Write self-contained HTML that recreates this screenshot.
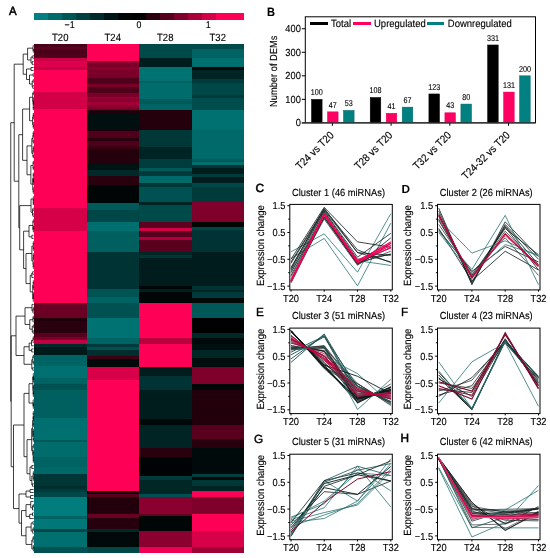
<!DOCTYPE html>
<html><head><meta charset="utf-8"><style>
html,body{margin:0;padding:0;background:#fff;width:550px;height:558px;overflow:hidden}
svg{display:block;will-change:transform}
text{text-rendering:geometricPrecision}
</style></head><body>
<svg width="550" height="558" viewBox="0 0 550 558" shape-rendering="crispEdges">
<rect x="0" y="0" width="550" height="558" fill="#fff"/>
<rect x="34" y="44" width="52.50" height="3.00" fill="#4a0019"/>
<rect x="34" y="47" width="52.50" height="2.00" fill="#5e0020"/>
<rect x="34" y="49" width="52.50" height="4.00" fill="#4a0019"/>
<rect x="34" y="53" width="52.50" height="5.00" fill="#4f001b"/>
<rect x="34" y="58" width="52.50" height="3.00" fill="#cc0046"/>
<rect x="34" y="61" width="52.50" height="6.00" fill="#de004c"/>
<rect x="34" y="67" width="52.50" height="3.00" fill="#c70044"/>
<rect x="34" y="70" width="52.50" height="22.00" fill="#ff0057"/>
<rect x="34" y="92" width="52.50" height="17.00" fill="#d10047"/>
<rect x="34" y="109" width="52.50" height="99.00" fill="#ff0057"/>
<rect x="34" y="208" width="52.50" height="23.00" fill="#d60049"/>
<rect x="34" y="231" width="52.50" height="72.00" fill="#ff0057"/>
<rect x="34" y="303" width="52.50" height="15.00" fill="#6b0025"/>
<rect x="34" y="318" width="52.50" height="3.00" fill="#1f000a"/>
<rect x="34" y="321" width="52.50" height="12.00" fill="#29000e"/>
<rect x="34" y="333" width="52.50" height="4.00" fill="#59001e"/>
<rect x="34" y="337" width="52.50" height="3.00" fill="#7a002a"/>
<rect x="34" y="340" width="52.50" height="4.00" fill="#bf0041"/>
<rect x="34" y="344" width="52.50" height="3.00" fill="#002a2a"/>
<rect x="34" y="347" width="52.50" height="8.00" fill="#001a1a"/>
<rect x="34" y="355" width="52.50" height="11.00" fill="#006464"/>
<rect x="34" y="366" width="52.50" height="12.00" fill="#006f6f"/>
<rect x="34" y="378" width="52.50" height="6.00" fill="#006363"/>
<rect x="34" y="384" width="52.50" height="6.00" fill="#005151"/>
<rect x="34" y="390" width="52.50" height="28.00" fill="#006060"/>
<rect x="34" y="418" width="52.50" height="22.00" fill="#006f6f"/>
<rect x="34" y="440" width="52.50" height="2.00" fill="#005858"/>
<rect x="34" y="442" width="52.50" height="15.00" fill="#006c6c"/>
<rect x="34" y="457" width="52.50" height="10.00" fill="#006363"/>
<rect x="34" y="467" width="52.50" height="7.00" fill="#006868"/>
<rect x="34" y="474" width="52.50" height="12.00" fill="#003636"/>
<rect x="34" y="486" width="52.50" height="3.00" fill="#002e2e"/>
<rect x="34" y="489" width="52.50" height="3.00" fill="#003a3a"/>
<rect x="34" y="492" width="52.50" height="5.00" fill="#004848"/>
<rect x="34" y="497" width="52.50" height="19.00" fill="#007c7c"/>
<rect x="34" y="516" width="52.50" height="3.00" fill="#006363"/>
<rect x="34" y="519" width="52.50" height="10.00" fill="#007878"/>
<rect x="34" y="529" width="52.50" height="3.00" fill="#004848"/>
<rect x="34" y="532" width="52.50" height="15.00" fill="#006f6f"/>
<rect x="34" y="547" width="52.50" height="5.60" fill="#005151"/>
<rect x="86.5" y="44" width="52.50" height="17.00" fill="#ff0057"/>
<rect x="86.5" y="61" width="52.50" height="3.00" fill="#8a002f"/>
<rect x="86.5" y="64" width="52.50" height="3.00" fill="#7a002a"/>
<rect x="86.5" y="67" width="52.50" height="3.00" fill="#8a002f"/>
<rect x="86.5" y="70" width="52.50" height="8.00" fill="#7a002a"/>
<rect x="86.5" y="78" width="52.50" height="6.00" fill="#4f001b"/>
<rect x="86.5" y="84" width="52.50" height="3.00" fill="#7a002a"/>
<rect x="86.5" y="87" width="52.50" height="6.00" fill="#4f001b"/>
<rect x="86.5" y="93" width="52.50" height="4.00" fill="#7a002a"/>
<rect x="86.5" y="97" width="52.50" height="2.00" fill="#990034"/>
<rect x="86.5" y="99" width="52.50" height="3.00" fill="#8a002f"/>
<rect x="86.5" y="102" width="52.50" height="3.00" fill="#a10037"/>
<rect x="86.5" y="105" width="52.50" height="3.00" fill="#8f0031"/>
<rect x="86.5" y="108" width="52.50" height="2.00" fill="#7a002a"/>
<rect x="86.5" y="110" width="52.50" height="3.00" fill="#21000b"/>
<rect x="86.5" y="113" width="52.50" height="16.00" fill="#000f0f"/>
<rect x="86.5" y="129" width="52.50" height="2.00" fill="#21000b"/>
<rect x="86.5" y="131" width="52.50" height="7.00" fill="#4f001b"/>
<rect x="86.5" y="138" width="52.50" height="3.00" fill="#29000e"/>
<rect x="86.5" y="141" width="52.50" height="5.00" fill="#4f001b"/>
<rect x="86.5" y="146" width="52.50" height="3.00" fill="#3b0014"/>
<rect x="86.5" y="149" width="52.50" height="15.00" fill="#24000c"/>
<rect x="86.5" y="164" width="52.50" height="6.00" fill="#001313"/>
<rect x="86.5" y="170" width="52.50" height="6.00" fill="#002a2a"/>
<rect x="86.5" y="176" width="52.50" height="9.00" fill="#29000e"/>
<rect x="86.5" y="185" width="52.50" height="18.00" fill="#000505"/>
<rect x="86.5" y="203" width="52.50" height="7.00" fill="#005a5a"/>
<rect x="86.5" y="210" width="52.50" height="12.00" fill="#004848"/>
<rect x="86.5" y="222" width="52.50" height="9.00" fill="#006f6f"/>
<rect x="86.5" y="231" width="52.50" height="21.00" fill="#006060"/>
<rect x="86.5" y="252" width="52.50" height="37.00" fill="#003434"/>
<rect x="86.5" y="289" width="52.50" height="8.00" fill="#005454"/>
<rect x="86.5" y="297" width="52.50" height="6.00" fill="#006363"/>
<rect x="86.5" y="303" width="52.50" height="15.00" fill="#005151"/>
<rect x="86.5" y="318" width="52.50" height="20.00" fill="#007272"/>
<rect x="86.5" y="338" width="52.50" height="6.00" fill="#006464"/>
<rect x="86.5" y="344" width="52.50" height="3.00" fill="#003a3a"/>
<rect x="86.5" y="347" width="52.50" height="3.00" fill="#005151"/>
<rect x="86.5" y="350" width="52.50" height="6.00" fill="#002e2e"/>
<rect x="86.5" y="356" width="52.50" height="3.00" fill="#3b0014"/>
<rect x="86.5" y="359" width="52.50" height="8.00" fill="#000808"/>
<rect x="86.5" y="367" width="52.50" height="13.00" fill="#d9004a"/>
<rect x="86.5" y="380" width="52.50" height="111.00" fill="#ff0057"/>
<rect x="86.5" y="491" width="52.50" height="3.00" fill="#1a0009"/>
<rect x="86.5" y="494" width="52.50" height="3.00" fill="#59001e"/>
<rect x="86.5" y="497" width="52.50" height="17.00" fill="#21000b"/>
<rect x="86.5" y="514" width="52.50" height="4.00" fill="#6b0025"/>
<rect x="86.5" y="518" width="52.50" height="11.00" fill="#26000d"/>
<rect x="86.5" y="529" width="52.50" height="3.00" fill="#002828"/>
<rect x="86.5" y="532" width="52.50" height="15.00" fill="#000808"/>
<rect x="86.5" y="547" width="52.50" height="5.60" fill="#004848"/>
<rect x="139" y="44" width="52.50" height="14.00" fill="#004a4a"/>
<rect x="139" y="58" width="52.50" height="9.00" fill="#001d1d"/>
<rect x="139" y="67" width="52.50" height="14.00" fill="#007272"/>
<rect x="139" y="81" width="52.50" height="2.00" fill="#006060"/>
<rect x="139" y="83" width="52.50" height="16.00" fill="#006c6c"/>
<rect x="139" y="99" width="52.50" height="5.00" fill="#005a5a"/>
<rect x="139" y="104" width="52.50" height="6.00" fill="#006464"/>
<rect x="139" y="110" width="52.50" height="20.00" fill="#24000c"/>
<rect x="139" y="130" width="52.50" height="17.00" fill="#003838"/>
<rect x="139" y="147" width="52.50" height="12.00" fill="#002424"/>
<rect x="139" y="159" width="52.50" height="9.00" fill="#003c3c"/>
<rect x="139" y="168" width="52.50" height="3.00" fill="#005a5a"/>
<rect x="139" y="171" width="52.50" height="5.00" fill="#003a3a"/>
<rect x="139" y="176" width="52.50" height="7.00" fill="#006a6a"/>
<rect x="139" y="183" width="52.50" height="4.00" fill="#003838"/>
<rect x="139" y="187" width="52.50" height="15.00" fill="#005151"/>
<rect x="139" y="202" width="52.50" height="3.00" fill="#002323"/>
<rect x="139" y="205" width="52.50" height="17.00" fill="#004a4a"/>
<rect x="139" y="222" width="52.50" height="6.00" fill="#5e0020"/>
<rect x="139" y="228" width="52.50" height="3.00" fill="#d10047"/>
<rect x="139" y="231" width="52.50" height="6.00" fill="#59001e"/>
<rect x="139" y="237" width="52.50" height="3.00" fill="#b2003d"/>
<rect x="139" y="240" width="52.50" height="12.00" fill="#59001e"/>
<rect x="139" y="252" width="52.50" height="3.00" fill="#002626"/>
<rect x="139" y="255" width="52.50" height="3.00" fill="#003636"/>
<rect x="139" y="258" width="52.50" height="28.00" fill="#001c1c"/>
<rect x="139" y="286" width="52.50" height="3.00" fill="#000505"/>
<rect x="139" y="289" width="52.50" height="3.00" fill="#002020"/>
<rect x="139" y="292" width="52.50" height="11.00" fill="#000505"/>
<rect x="139" y="303" width="52.50" height="35.00" fill="#ff0057"/>
<rect x="139" y="338" width="52.50" height="6.00" fill="#b8003f"/>
<rect x="139" y="344" width="52.50" height="23.00" fill="#ff0057"/>
<rect x="139" y="367" width="52.50" height="9.00" fill="#001c1c"/>
<rect x="139" y="376" width="52.50" height="14.00" fill="#003434"/>
<rect x="139" y="390" width="52.50" height="29.00" fill="#001d1d"/>
<rect x="139" y="419" width="52.50" height="6.00" fill="#000808"/>
<rect x="139" y="425" width="52.50" height="23.00" fill="#002424"/>
<rect x="139" y="448" width="52.50" height="9.00" fill="#29000e"/>
<rect x="139" y="457" width="52.50" height="19.00" fill="#000303"/>
<rect x="139" y="476" width="52.50" height="4.00" fill="#003a3a"/>
<rect x="139" y="480" width="52.50" height="14.00" fill="#002626"/>
<rect x="139" y="494" width="52.50" height="3.00" fill="#005151"/>
<rect x="139" y="497" width="52.50" height="17.00" fill="#8a002f"/>
<rect x="139" y="514" width="52.50" height="2.00" fill="#610021"/>
<rect x="139" y="516" width="52.50" height="15.00" fill="#000505"/>
<rect x="139" y="531" width="52.50" height="16.00" fill="#8a002f"/>
<rect x="139" y="547" width="52.50" height="5.60" fill="#f00052"/>
<rect x="191.5" y="44" width="52.50" height="5.00" fill="#004a4a"/>
<rect x="191.5" y="49" width="52.50" height="9.00" fill="#006363"/>
<rect x="191.5" y="58" width="52.50" height="9.00" fill="#006f6f"/>
<rect x="191.5" y="67" width="52.50" height="3.00" fill="#000808"/>
<rect x="191.5" y="70" width="52.50" height="9.00" fill="#002323"/>
<rect x="191.5" y="79" width="52.50" height="4.00" fill="#003a3a"/>
<rect x="191.5" y="83" width="52.50" height="12.00" fill="#004848"/>
<rect x="191.5" y="95" width="52.50" height="3.00" fill="#003a3a"/>
<rect x="191.5" y="98" width="52.50" height="12.00" fill="#004d4d"/>
<rect x="191.5" y="110" width="52.50" height="20.00" fill="#007171"/>
<rect x="191.5" y="130" width="52.50" height="29.00" fill="#006969"/>
<rect x="191.5" y="159" width="52.50" height="3.00" fill="#005a5a"/>
<rect x="191.5" y="162" width="52.50" height="3.00" fill="#006f6f"/>
<rect x="191.5" y="165" width="52.50" height="3.00" fill="#003434"/>
<rect x="191.5" y="168" width="52.50" height="6.00" fill="#001d1d"/>
<rect x="191.5" y="174" width="52.50" height="3.00" fill="#003a3a"/>
<rect x="191.5" y="177" width="52.50" height="6.00" fill="#001d1d"/>
<rect x="191.5" y="183" width="52.50" height="4.00" fill="#004848"/>
<rect x="191.5" y="187" width="52.50" height="15.00" fill="#003a3a"/>
<rect x="191.5" y="202" width="52.50" height="20.00" fill="#80002c"/>
<rect x="191.5" y="222" width="52.50" height="5.00" fill="#000505"/>
<rect x="191.5" y="227" width="52.50" height="3.00" fill="#004545"/>
<rect x="191.5" y="230" width="52.50" height="22.00" fill="#003434"/>
<rect x="191.5" y="252" width="52.50" height="34.00" fill="#001c1c"/>
<rect x="191.5" y="286" width="52.50" height="4.00" fill="#003434"/>
<rect x="191.5" y="290" width="52.50" height="2.00" fill="#002323"/>
<rect x="191.5" y="292" width="52.50" height="6.00" fill="#003a3a"/>
<rect x="191.5" y="298" width="52.50" height="5.00" fill="#000808"/>
<rect x="191.5" y="303" width="52.50" height="15.00" fill="#005858"/>
<rect x="191.5" y="318" width="52.50" height="15.00" fill="#000000"/>
<rect x="191.5" y="333" width="52.50" height="5.00" fill="#002828"/>
<rect x="191.5" y="338" width="52.50" height="6.00" fill="#000a0a"/>
<rect x="191.5" y="344" width="52.50" height="6.00" fill="#000f0f"/>
<rect x="191.5" y="350" width="52.50" height="8.00" fill="#002626"/>
<rect x="191.5" y="358" width="52.50" height="9.00" fill="#000e0e"/>
<rect x="191.5" y="367" width="52.50" height="17.00" fill="#80002c"/>
<rect x="191.5" y="384" width="52.50" height="6.00" fill="#000505"/>
<rect x="191.5" y="390" width="52.50" height="35.00" fill="#21000b"/>
<rect x="191.5" y="425" width="52.50" height="14.00" fill="#59001e"/>
<rect x="191.5" y="439" width="52.50" height="9.00" fill="#29000e"/>
<rect x="191.5" y="448" width="52.50" height="26.00" fill="#000a0a"/>
<rect x="191.5" y="474" width="52.50" height="3.00" fill="#004040"/>
<rect x="191.5" y="477" width="52.50" height="3.00" fill="#000808"/>
<rect x="191.5" y="480" width="52.50" height="6.00" fill="#003838"/>
<rect x="191.5" y="486" width="52.50" height="5.00" fill="#002424"/>
<rect x="191.5" y="491" width="52.50" height="6.00" fill="#ff0057"/>
<rect x="191.5" y="497" width="52.50" height="17.00" fill="#80002c"/>
<rect x="191.5" y="514" width="52.50" height="17.00" fill="#ff0057"/>
<rect x="191.5" y="531" width="52.50" height="16.00" fill="#d9004a"/>
<rect x="191.5" y="547" width="52.50" height="5.60" fill="#a10037"/>
<rect x="34" y="13" width="14" height="7" fill="#008080"/>
<rect x="48" y="13" width="14" height="7" fill="#006b6b"/>
<rect x="62" y="13" width="14" height="7" fill="#005555"/>
<rect x="76" y="13" width="14" height="7" fill="#004040"/>
<rect x="90" y="13" width="14" height="7" fill="#002b2b"/>
<rect x="104" y="13" width="14" height="7" fill="#001515"/>
<rect x="118" y="13" width="14" height="7" fill="#000505"/>
<rect x="132" y="13" width="14" height="7" fill="#000000"/>
<rect x="146" y="13" width="14" height="7" fill="#2a000e"/>
<rect x="160" y="13" width="14" height="7" fill="#55001d"/>
<rect x="174" y="13" width="14" height="7" fill="#80002c"/>
<rect x="188" y="13" width="14" height="7" fill="#aa003a"/>
<rect x="202" y="13" width="14" height="7" fill="#d40048"/>
<rect x="216" y="13" width="14" height="7" fill="#ff0057"/>
<rect x="230" y="13" width="14" height="7" fill="#ff0057"/>
<text transform="translate(9.0 15) scale(1 1.03)" font-family="Liberation Sans, sans-serif" font-size="11.5" text-anchor="start" fill="#000" stroke="#000" stroke-width="0.5">A</text>
<text transform="translate(69.6 27.8) scale(1 1.1)" font-family="Liberation Sans, sans-serif" font-size="8.8" text-anchor="middle" fill="#000" stroke="#000" stroke-width="0.12">−1</text>
<text transform="translate(139 27.8) scale(1 1.1)" font-family="Liberation Sans, sans-serif" font-size="8.8" text-anchor="middle" fill="#000" stroke="#000" stroke-width="0.12">0</text>
<text transform="translate(208.2 27.8) scale(1 1.1)" font-family="Liberation Sans, sans-serif" font-size="8.8" text-anchor="middle" fill="#000" stroke="#000" stroke-width="0.12">1</text>
<text transform="translate(60.25 41) scale(1 1.1)" font-family="Liberation Sans, sans-serif" font-size="9.5" text-anchor="middle" fill="#000" stroke="#000" stroke-width="0.12">T20</text>
<text transform="translate(112.75 41) scale(1 1.1)" font-family="Liberation Sans, sans-serif" font-size="9.5" text-anchor="middle" fill="#000" stroke="#000" stroke-width="0.12">T24</text>
<text transform="translate(165.25 41) scale(1 1.1)" font-family="Liberation Sans, sans-serif" font-size="9.5" text-anchor="middle" fill="#000" stroke="#000" stroke-width="0.12">T28</text>
<text transform="translate(217.75 41) scale(1 1.1)" font-family="Liberation Sans, sans-serif" font-size="9.5" text-anchor="middle" fill="#000" stroke="#000" stroke-width="0.12">T32</text>
<path d="M33.30 49.00L33.30 52.33M33.30 49.00L33.60 49.00M33.30 52.33L33.60 52.33M33.00 45.67L33.00 50.67M33.00 45.67L33.60 45.67M33.00 50.67L33.30 50.67M32.90 55.50L32.90 58.50M32.90 55.50L33.60 55.50M32.90 58.50L33.60 58.50M32.25 61.50L32.25 64.50M32.25 61.50L33.60 61.50M32.25 64.50L33.60 64.50M31.00 57.00L31.00 63.00M31.00 57.00L32.90 57.00M31.00 63.00L32.25 63.00M27.60 48.17L27.60 60.00M27.60 48.17L33.00 48.17M27.60 60.00L31.00 60.00M31.00 67.50L31.00 70.50M31.00 67.50L33.60 67.50M31.00 70.50L33.60 70.50M33.18 73.50L33.18 76.50M33.18 73.50L33.60 73.50M33.18 76.50L33.60 76.50M33.24 79.50L33.24 82.50M33.24 79.50L33.60 79.50M33.24 82.50L33.60 82.50M32.93 85.50L32.93 88.50M32.93 85.50L33.60 85.50M32.93 88.50L33.60 88.50M32.21 81.00L32.21 87.00M32.21 81.00L33.24 81.00M32.21 87.00L32.93 87.00M29.50 75.00L29.50 84.00M29.50 75.00L33.18 75.00M29.50 84.00L32.21 84.00M26.50 69.00L26.50 79.50M26.50 69.00L31.00 69.00M26.50 79.50L29.50 79.50M23.20 54.08L23.20 74.25M23.20 54.08L27.60 54.08M23.20 74.25L26.50 74.25M33.30 91.54L33.30 94.62M33.30 91.54L33.60 91.54M33.30 94.62L33.60 94.62M33.30 100.77L33.30 103.85M33.30 100.77L33.60 100.77M33.30 103.85L33.60 103.85M33.30 106.92L33.30 110.00M33.30 106.92L33.60 106.92M33.30 110.00L33.60 110.00M33.30 102.31L33.30 108.46M33.30 102.31L33.30 102.31M33.30 108.46L33.30 108.46M33.30 97.69L33.30 105.38M33.30 97.69L33.60 97.69M33.30 105.38L33.30 105.38M32.73 93.08L32.73 101.54M32.73 93.08L33.30 93.08M32.73 101.54L33.30 101.54M33.30 113.08L33.30 116.15M33.30 113.08L33.60 113.08M33.30 116.15L33.60 116.15M33.30 114.62L33.30 119.23M33.30 114.62L33.30 114.62M33.30 119.23L33.60 119.23M33.30 125.38L33.30 128.46M33.30 125.38L33.60 125.38M33.30 128.46L33.60 128.46M33.25 122.31L33.25 126.92M33.25 122.31L33.60 122.31M33.25 126.92L33.30 126.92M32.61 116.92L32.61 124.62M32.61 116.92L33.30 116.92M32.61 124.62L33.25 124.62M29.60 97.31L29.60 120.77M29.60 97.31L32.73 97.31M29.60 120.77L32.61 120.77M33.30 131.48L33.30 134.43M33.30 131.48L33.60 131.48M33.30 134.43L33.60 134.43M33.30 132.95L33.30 137.39M33.30 132.95L33.30 132.95M33.30 137.39L33.60 137.39M33.30 140.34L33.30 143.30M33.30 140.34L33.60 140.34M33.30 143.30L33.60 143.30M32.93 135.17L32.93 141.82M32.93 135.17L33.30 135.17M32.93 141.82L33.30 141.82M33.30 146.25L33.30 149.20M33.30 146.25L33.60 146.25M33.30 149.20L33.60 149.20M33.27 147.73L33.27 152.16M33.27 147.73L33.30 147.73M33.27 152.16L33.60 152.16M33.30 155.11L33.30 158.07M33.30 155.11L33.60 155.11M33.30 158.07L33.60 158.07M32.91 149.94L32.91 156.59M32.91 149.94L33.27 149.94M32.91 156.59L33.30 156.59M31.83 138.49L31.83 153.27M31.83 138.49L32.93 138.49M31.83 153.27L32.91 153.27M33.30 161.02L33.30 163.98M33.30 161.02L33.60 161.02M33.30 163.98L33.60 163.98M33.30 166.93L33.30 169.89M33.30 166.93L33.60 166.93M33.30 169.89L33.60 169.89M33.12 162.50L33.12 168.41M33.12 162.50L33.30 162.50M33.12 168.41L33.30 168.41M33.30 172.84L33.30 175.80M33.30 172.84L33.60 172.84M33.30 175.80L33.60 175.80M33.30 178.75L33.30 181.70M33.30 178.75L33.60 178.75M33.30 181.70L33.60 181.70M33.30 180.23L33.30 184.66M33.30 180.23L33.30 180.23M33.30 184.66L33.60 184.66M33.30 174.32L33.30 182.44M33.30 174.32L33.30 174.32M33.30 182.44L33.30 182.44M33.30 190.57L33.30 193.52M33.30 190.57L33.60 190.57M33.30 193.52L33.60 193.52M33.21 187.61L33.21 192.05M33.21 187.61L33.60 187.61M33.21 192.05L33.30 192.05M32.80 178.38L32.80 189.83M32.80 178.38L33.30 178.38M32.80 189.83L33.21 189.83M30.86 165.45L30.86 184.11M30.86 165.45L33.12 165.45M30.86 184.11L32.80 184.11M27.00 145.88L27.00 174.78M27.00 145.88L31.83 145.88M27.00 174.78L30.86 174.78M22.60 109.04L22.60 160.33M22.60 109.04L29.60 109.04M22.60 160.33L27.00 160.33M33.30 202.19L33.30 205.06M33.30 202.19L33.60 202.19M33.30 205.06L33.60 205.06M33.30 199.31L33.30 203.62M33.30 199.31L33.60 199.31M33.30 203.62L33.30 203.62M33.30 196.44L33.30 201.47M33.30 196.44L33.60 196.44M33.30 201.47L33.30 201.47M33.09 207.94L33.09 210.81M33.09 207.94L33.60 207.94M33.09 210.81L33.60 210.81M33.03 213.69L33.03 216.56M33.03 213.69L33.60 213.69M33.03 216.56L33.60 216.56M32.53 209.38L32.53 215.12M32.53 209.38L33.09 209.38M32.53 215.12L33.03 215.12M31.00 198.95L31.00 212.25M31.00 198.95L33.30 198.95M31.00 212.25L32.53 212.25M33.30 219.57L33.30 222.71M33.30 219.57L33.60 219.57M33.30 222.71L33.60 222.71M33.30 225.86L33.30 229.00M33.30 225.86L33.60 225.86M33.30 229.00L33.60 229.00M33.30 227.43L33.30 232.14M33.30 227.43L33.30 227.43M33.30 232.14L33.60 232.14M32.93 221.14L32.93 229.79M32.93 221.14L33.30 221.14M32.93 229.79L33.30 229.79M31.85 235.29L31.85 238.43M31.85 235.29L33.60 235.29M31.85 238.43L33.60 238.43M29.00 225.46L29.00 236.86M29.00 225.46L32.93 225.46M29.00 236.86L31.85 236.86M33.30 241.50L33.30 244.50M33.30 241.50L33.60 241.50M33.30 244.50L33.60 244.50M33.30 247.50L33.30 250.50M33.30 247.50L33.60 247.50M33.30 250.50L33.60 250.50M33.30 243.00L33.30 249.00M33.30 243.00L33.30 243.00M33.30 249.00L33.30 249.00M33.30 253.50L33.30 256.50M33.30 253.50L33.60 253.50M33.30 256.50L33.60 256.50M33.30 255.00L33.30 259.50M33.30 255.00L33.30 255.00M33.30 259.50L33.60 259.50M33.30 265.50L33.30 268.50M33.30 265.50L33.60 265.50M33.30 268.50L33.60 268.50M33.30 262.50L33.30 267.00M33.30 262.50L33.60 262.50M33.30 267.00L33.30 267.00M33.06 257.25L33.06 264.75M33.06 257.25L33.30 257.25M33.06 264.75L33.30 264.75M31.88 246.00L31.88 261.00M31.88 246.00L33.30 246.00M31.88 261.00L33.06 261.00M32.83 271.50L32.83 274.50M32.83 271.50L33.60 271.50M32.83 274.50L33.60 274.50M31.84 273.00L31.84 277.50M31.84 273.00L32.83 273.00M31.84 277.50L33.60 277.50M33.30 280.50L33.30 283.50M33.30 280.50L33.60 280.50M33.30 283.50L33.60 283.50M33.30 286.50L33.30 289.50M33.30 286.50L33.60 286.50M33.30 289.50L33.60 289.50M33.26 282.00L33.26 288.00M33.26 282.00L33.30 282.00M33.26 288.00L33.30 288.00M33.30 292.50L33.30 295.50M33.30 292.50L33.60 292.50M33.30 295.50L33.60 295.50M33.30 294.00L33.30 298.50M33.30 294.00L33.30 294.00M33.30 298.50L33.60 298.50M33.28 296.25L33.28 301.50M33.28 296.25L33.30 296.25M33.28 301.50L33.60 301.50M32.77 285.00L32.77 298.88M32.77 285.00L33.26 285.00M32.77 298.88L33.28 298.88M30.23 275.25L30.23 291.94M30.23 275.25L31.84 275.25M30.23 291.94L32.77 291.94M26.00 253.50L26.00 283.59M26.00 253.50L31.88 253.50M26.00 283.59L30.23 283.59M23.60 231.16L23.60 268.55M23.60 231.16L29.00 231.16M23.60 268.55L26.00 268.55M19.70 205.60L19.70 249.85M19.70 205.60L31.00 205.60M19.70 249.85L23.60 249.85M18.80 134.68L18.80 227.73M18.80 134.68L22.60 134.68M18.80 227.73L19.70 227.73M14.20 64.17L14.20 181.21M14.20 64.17L23.20 64.17M14.20 181.21L18.80 181.21M33.30 307.36L33.30 310.27M33.30 307.36L33.60 307.36M33.30 310.27L33.60 310.27M33.03 308.82L33.03 313.18M33.03 308.82L33.30 308.82M33.03 313.18L33.60 313.18M31.98 304.45L31.98 311.00M31.98 304.45L33.60 304.45M31.98 311.00L33.03 311.00M33.28 316.09L33.28 319.00M33.28 316.09L33.60 316.09M33.28 319.00L33.60 319.00M32.93 317.55L32.93 321.91M32.93 317.55L33.28 317.55M32.93 321.91L33.60 321.91M33.30 324.82L33.30 327.73M33.30 324.82L33.60 324.82M33.30 327.73L33.60 327.73M33.13 330.64L33.13 333.55M33.13 330.64L33.60 330.64M33.13 333.55L33.60 333.55M32.26 326.27L32.26 332.09M32.26 326.27L33.30 326.27M32.26 332.09L33.13 332.09M29.79 319.73L29.79 329.18M29.79 319.73L32.93 319.73M29.79 329.18L32.26 329.18M25.00 307.73L25.00 324.45M25.00 307.73L31.98 307.73M25.00 324.45L29.79 324.45M33.30 336.54L33.30 339.62M33.30 336.54L33.60 336.54M33.30 339.62L33.60 339.62M33.06 338.08L33.06 342.71M33.06 338.08L33.30 338.08M33.06 342.71L33.60 342.71M31.52 340.40L31.52 345.79M31.52 340.40L33.06 340.40M31.52 345.79L33.60 345.79M31.71 348.88L31.71 351.96M31.71 348.88L33.60 348.88M31.71 351.96L33.60 351.96M29.14 343.09L29.14 350.42M29.14 343.09L31.52 343.09M29.14 350.42L31.71 350.42M33.30 355.04L33.30 358.12M33.30 355.04L33.60 355.04M33.30 358.12L33.60 358.12M33.30 361.21L33.30 364.29M33.30 361.21L33.60 361.21M33.30 364.29L33.60 364.29M32.83 356.58L32.83 362.75M32.83 356.58L33.30 356.58M32.83 362.75L33.30 362.75M32.89 367.38L32.89 370.46M32.89 367.38L33.60 367.38M32.89 370.46L33.60 370.46M31.81 359.67L31.81 368.92M31.81 359.67L32.83 359.67M31.81 368.92L32.89 368.92M24.00 346.76L24.00 364.29M24.00 346.76L29.14 346.76M24.00 364.29L31.81 364.29M16.00 316.09L16.00 355.52M16.00 316.09L25.00 316.09M16.00 355.52L24.00 355.52M33.30 376.38L33.30 379.31M33.30 376.38L33.60 376.38M33.30 379.31L33.60 379.31M33.30 377.85L33.30 382.23M33.30 377.85L33.30 377.85M33.30 382.23L33.60 382.23M33.30 373.46L33.30 380.04M33.30 373.46L33.60 373.46M33.30 380.04L33.30 380.04M33.30 385.15L33.30 388.08M33.30 385.15L33.60 385.15M33.30 388.08L33.60 388.08M33.30 391.00L33.30 393.92M33.30 391.00L33.60 391.00M33.30 393.92L33.60 393.92M33.30 392.46L33.30 396.85M33.30 392.46L33.30 392.46M33.30 396.85L33.60 396.85M33.30 386.62L33.30 394.65M33.30 386.62L33.30 386.62M33.30 394.65L33.30 394.65M32.89 376.75L32.89 390.63M32.89 376.75L33.30 376.75M32.89 390.63L33.30 390.63M33.30 402.69L33.30 405.62M33.30 402.69L33.60 402.69M33.30 405.62L33.60 405.62M33.30 404.15L33.30 408.54M33.30 404.15L33.30 404.15M33.30 408.54L33.60 408.54M33.11 399.77L33.11 406.35M33.11 399.77L33.60 399.77M33.11 406.35L33.30 406.35M29.00 383.69L29.00 403.06M29.00 383.69L32.89 383.69M29.00 403.06L33.11 403.06M33.30 411.50L33.30 414.50M33.30 411.50L33.60 411.50M33.30 414.50L33.60 414.50M33.30 417.50L33.30 420.50M33.30 417.50L33.60 417.50M33.30 420.50L33.60 420.50M33.30 413.00L33.30 419.00M33.30 413.00L33.30 413.00M33.30 419.00L33.30 419.00M33.30 423.50L33.30 426.50M33.30 423.50L33.60 423.50M33.30 426.50L33.60 426.50M33.30 416.00L33.30 425.00M33.30 416.00L33.30 416.00M33.30 425.00L33.30 425.00M33.30 429.50L33.30 432.50M33.30 429.50L33.60 429.50M33.30 432.50L33.60 432.50M33.30 431.00L33.30 435.50M33.30 431.00L33.30 431.00M33.30 435.50L33.60 435.50M33.30 438.50L33.30 441.50M33.30 438.50L33.60 438.50M33.30 441.50L33.60 441.50M33.27 433.25L33.27 440.00M33.27 433.25L33.30 433.25M33.27 440.00L33.30 440.00M32.69 420.50L32.69 436.62M32.69 420.50L33.30 420.50M32.69 436.62L33.27 436.62M33.30 444.50L33.30 447.50M33.30 444.50L33.60 444.50M33.30 447.50L33.60 447.50M33.30 450.50L33.30 453.50M33.30 450.50L33.60 450.50M33.30 453.50L33.60 453.50M33.30 459.50L33.30 462.50M33.30 459.50L33.60 459.50M33.30 462.50L33.60 462.50M33.30 456.50L33.30 461.00M33.30 456.50L33.60 456.50M33.30 461.00L33.30 461.00M33.30 452.00L33.30 458.75M33.30 452.00L33.30 452.00M33.30 458.75L33.30 458.75M32.80 446.00L32.80 455.38M32.80 446.00L33.30 446.00M32.80 455.38L33.30 455.38M31.68 428.56L31.68 450.69M31.68 428.56L32.69 428.56M31.68 450.69L32.80 450.69M31.83 465.50L31.83 468.50M31.83 465.50L33.60 465.50M31.83 468.50L33.60 468.50M33.30 471.50L33.30 474.50M33.30 471.50L33.60 471.50M33.30 474.50L33.60 474.50M33.30 477.50L33.30 480.50M33.30 477.50L33.60 477.50M33.30 480.50L33.60 480.50M33.30 473.00L33.30 479.00M33.30 473.00L33.30 473.00M33.30 479.00L33.30 479.00M32.69 483.50L32.69 486.50M32.69 483.50L33.60 483.50M32.69 486.50L33.60 486.50M31.83 476.00L31.83 485.00M31.83 476.00L33.30 476.00M31.83 485.00L32.69 485.00M30.01 467.00L30.01 480.50M30.01 467.00L31.83 467.00M30.01 480.50L31.83 480.50M27.00 439.62L27.00 473.75M27.00 439.62L31.68 439.62M27.00 473.75L30.01 473.75M24.00 393.38L24.00 456.69M24.00 393.38L29.00 393.38M24.00 456.69L27.00 456.69M30.07 489.50L30.07 492.50M30.07 489.50L33.60 489.50M30.07 492.50L33.60 492.50M30.54 495.50L30.54 498.50M30.54 495.50L33.60 495.50M30.54 498.50L33.60 498.50M26.00 491.00L26.00 497.00M26.00 491.00L30.07 491.00M26.00 497.00L30.54 497.00M33.30 504.29L33.30 507.14M33.30 504.29L33.60 504.29M33.30 507.14L33.60 507.14M32.50 505.71L32.50 510.00M32.50 505.71L33.30 505.71M32.50 510.00L33.60 510.00M30.72 501.43L30.72 507.86M30.72 501.43L33.60 501.43M30.72 507.86L32.50 507.86M32.55 512.86L32.55 515.71M32.55 512.86L33.60 512.86M32.55 515.71L33.60 515.71M29.69 514.29L29.69 518.57M29.69 514.29L32.55 514.29M29.69 518.57L33.60 518.57M26.00 504.64L26.00 516.43M26.00 504.64L30.72 504.64M26.00 516.43L29.69 516.43M33.01 521.48L33.01 524.45M33.01 521.48L33.60 521.48M33.01 524.45L33.60 524.45M33.30 527.41L33.30 530.37M33.30 527.41L33.60 527.41M33.30 530.37L33.60 530.37M32.75 528.89L32.75 533.34M32.75 528.89L33.30 528.89M32.75 533.34L33.60 533.34M31.12 522.96L31.12 531.11M31.12 522.96L33.01 522.96M31.12 531.11L32.75 531.11M33.30 536.30L33.30 539.26M33.30 536.30L33.60 536.30M33.30 539.26L33.60 539.26M32.96 537.78L32.96 542.23M32.96 537.78L33.30 537.78M32.96 542.23L33.60 542.23M33.30 545.19L33.30 548.15M33.30 545.19L33.60 545.19M33.30 548.15L33.60 548.15M33.30 546.67L33.30 551.12M33.30 546.67L33.30 546.67M33.30 551.12L33.60 551.12M31.82 540.00L31.82 548.90M31.82 540.00L32.96 540.00M31.82 548.90L33.30 548.90M26.00 527.04L26.00 544.45M26.00 527.04L31.12 527.04M26.00 544.45L31.82 544.45M21.50 510.54L21.50 535.74M21.50 510.54L26.00 510.54M21.50 535.74L26.00 535.74M19.00 494.00L19.00 523.14M19.00 494.00L26.00 494.00M19.00 523.14L21.50 523.14M13.50 425.03L13.50 508.57M13.50 425.03L24.00 425.03M13.50 508.57L19.00 508.57M11.20 335.81L11.20 466.80M11.20 335.81L16.00 335.81M11.20 466.80L13.50 466.80M10.75 122.69L10.75 401.30M10.75 122.69L14.20 122.69M10.75 401.30L11.20 401.30" stroke="#000" stroke-width="0.75" fill="none" shape-rendering="geometricPrecision"/>
<text transform="translate(267 16.3) scale(1 1.1)" font-family="Liberation Sans, sans-serif" font-size="11" text-anchor="start" font-weight="bold" fill="#000" stroke="#000" stroke-width="0.12">B</text>
<rect x="305.3" y="16.8" width="230.2" height="106.0" fill="none" stroke="#000" stroke-width="1" shape-rendering="geometricPrecision"/>
<line x1="301.8" y1="122.90" x2="305.3" y2="122.90" stroke="#000" stroke-width="1" shape-rendering="geometricPrecision"/>
<text transform="translate(300.8 126.4) scale(1 1.1)" font-family="Liberation Sans, sans-serif" font-size="9.3" text-anchor="end" fill="#000" stroke="#000" stroke-width="0.12">0</text>
<line x1="301.8" y1="99.36" x2="305.3" y2="99.36" stroke="#000" stroke-width="1" shape-rendering="geometricPrecision"/>
<text transform="translate(300.8 102.86000000000001) scale(1 1.1)" font-family="Liberation Sans, sans-serif" font-size="9.3" text-anchor="end" fill="#000" stroke="#000" stroke-width="0.12">100</text>
<line x1="301.8" y1="75.82" x2="305.3" y2="75.82" stroke="#000" stroke-width="1" shape-rendering="geometricPrecision"/>
<text transform="translate(300.8 79.32000000000001) scale(1 1.1)" font-family="Liberation Sans, sans-serif" font-size="9.3" text-anchor="end" fill="#000" stroke="#000" stroke-width="0.12">200</text>
<line x1="301.8" y1="52.28" x2="305.3" y2="52.28" stroke="#000" stroke-width="1" shape-rendering="geometricPrecision"/>
<text transform="translate(300.8 55.78) scale(1 1.1)" font-family="Liberation Sans, sans-serif" font-size="9.3" text-anchor="end" fill="#000" stroke="#000" stroke-width="0.12">300</text>
<line x1="301.8" y1="28.74" x2="305.3" y2="28.74" stroke="#000" stroke-width="1" shape-rendering="geometricPrecision"/>
<text transform="translate(300.8 32.24000000000001) scale(1 1.1)" font-family="Liberation Sans, sans-serif" font-size="9.3" text-anchor="end" fill="#000" stroke="#000" stroke-width="0.12">400</text>
<text transform="translate(276.7 71.3) rotate(-90) scale(1 1.1)" font-family="Liberation Sans, sans-serif" font-size="9.3" text-anchor="middle" fill="#000" stroke="#000" stroke-width="0.12">Number of DEMs</text>
<rect x="311.50" y="99.36" width="10.6" height="23.54" fill="#000" stroke="#000" stroke-width="0.5" shape-rendering="geometricPrecision"/>
<text transform="translate(316.79999999999995 95.06000000000002) scale(1 1.17)" font-family="Liberation Sans, sans-serif" font-size="7.2" text-anchor="middle" fill="#000" stroke="#000" stroke-width="0.1">100</text>
<rect x="327.50" y="111.84" width="10.6" height="11.06" fill="#ff0062" stroke="#e8005a" stroke-width="0.5" shape-rendering="geometricPrecision"/>
<text transform="translate(332.79999999999995 107.53620000000001) scale(1 1.17)" font-family="Liberation Sans, sans-serif" font-size="7.2" text-anchor="middle" fill="#000" stroke="#000" stroke-width="0.1">47</text>
<rect x="343.50" y="110.42" width="10.6" height="12.48" fill="#008080" stroke="#006666" stroke-width="0.5" shape-rendering="geometricPrecision"/>
<text transform="translate(348.79999999999995 106.1238) scale(1 1.17)" font-family="Liberation Sans, sans-serif" font-size="7.2" text-anchor="middle" fill="#000" stroke="#000" stroke-width="0.1">53</text>
<line x1="332.4" y1="122.8" x2="332.4" y2="125.8" stroke="#000" stroke-width="1" shape-rendering="geometricPrecision"/>
<text transform="translate(334.5 135.8) rotate(-45) scale(1 1.1)" font-family="Liberation Sans, sans-serif" font-size="9.8" text-anchor="end" fill="#000" stroke="#000" stroke-width="0.12">T24 vs T20</text>
<rect x="370.20" y="97.48" width="10.6" height="25.42" fill="#000" stroke="#000" stroke-width="0.5" shape-rendering="geometricPrecision"/>
<text transform="translate(375.49999999999994 93.1768) scale(1 1.17)" font-family="Liberation Sans, sans-serif" font-size="7.2" text-anchor="middle" fill="#000" stroke="#000" stroke-width="0.1">108</text>
<rect x="386.20" y="113.25" width="10.6" height="9.65" fill="#ff0062" stroke="#e8005a" stroke-width="0.5" shape-rendering="geometricPrecision"/>
<text transform="translate(391.49999999999994 108.94860000000001) scale(1 1.17)" font-family="Liberation Sans, sans-serif" font-size="7.2" text-anchor="middle" fill="#000" stroke="#000" stroke-width="0.1">41</text>
<rect x="402.20" y="107.13" width="10.6" height="15.77" fill="#008080" stroke="#006666" stroke-width="0.5" shape-rendering="geometricPrecision"/>
<text transform="translate(407.49999999999994 102.82820000000001) scale(1 1.17)" font-family="Liberation Sans, sans-serif" font-size="7.2" text-anchor="middle" fill="#000" stroke="#000" stroke-width="0.1">67</text>
<line x1="391.09999999999997" y1="122.8" x2="391.09999999999997" y2="125.8" stroke="#000" stroke-width="1" shape-rendering="geometricPrecision"/>
<text transform="translate(393.2 135.8) rotate(-45) scale(1 1.1)" font-family="Liberation Sans, sans-serif" font-size="9.8" text-anchor="end" fill="#000" stroke="#000" stroke-width="0.12">T28 vs T20</text>
<rect x="428.90" y="93.95" width="10.6" height="28.95" fill="#000" stroke="#000" stroke-width="0.5" shape-rendering="geometricPrecision"/>
<text transform="translate(434.19999999999993 89.64580000000001) scale(1 1.17)" font-family="Liberation Sans, sans-serif" font-size="7.2" text-anchor="middle" fill="#000" stroke="#000" stroke-width="0.1">123</text>
<rect x="444.90" y="112.78" width="10.6" height="10.12" fill="#ff0062" stroke="#e8005a" stroke-width="0.5" shape-rendering="geometricPrecision"/>
<text transform="translate(450.19999999999993 108.47780000000002) scale(1 1.17)" font-family="Liberation Sans, sans-serif" font-size="7.2" text-anchor="middle" fill="#000" stroke="#000" stroke-width="0.1">43</text>
<rect x="460.90" y="104.07" width="10.6" height="18.83" fill="#008080" stroke="#006666" stroke-width="0.5" shape-rendering="geometricPrecision"/>
<text transform="translate(466.19999999999993 99.76800000000001) scale(1 1.17)" font-family="Liberation Sans, sans-serif" font-size="7.2" text-anchor="middle" fill="#000" stroke="#000" stroke-width="0.1">80</text>
<line x1="449.79999999999995" y1="122.8" x2="449.79999999999995" y2="125.8" stroke="#000" stroke-width="1" shape-rendering="geometricPrecision"/>
<text transform="translate(451.9 135.8) rotate(-45) scale(1 1.1)" font-family="Liberation Sans, sans-serif" font-size="9.8" text-anchor="end" fill="#000" stroke="#000" stroke-width="0.12">T32 vs T20</text>
<rect x="487.60" y="44.98" width="10.6" height="77.92" fill="#000" stroke="#000" stroke-width="0.5" shape-rendering="geometricPrecision"/>
<text transform="translate(492.9 40.68260000000001) scale(1 1.17)" font-family="Liberation Sans, sans-serif" font-size="7.2" text-anchor="middle" fill="#000" stroke="#000" stroke-width="0.1">331</text>
<rect x="503.60" y="92.06" width="10.6" height="30.84" fill="#ff0062" stroke="#e8005a" stroke-width="0.5" shape-rendering="geometricPrecision"/>
<text transform="translate(508.9 87.7626) scale(1 1.17)" font-family="Liberation Sans, sans-serif" font-size="7.2" text-anchor="middle" fill="#000" stroke="#000" stroke-width="0.1">131</text>
<rect x="519.60" y="75.82" width="10.6" height="47.08" fill="#008080" stroke="#006666" stroke-width="0.5" shape-rendering="geometricPrecision"/>
<text transform="translate(524.9 71.52000000000001) scale(1 1.17)" font-family="Liberation Sans, sans-serif" font-size="7.2" text-anchor="middle" fill="#000" stroke="#000" stroke-width="0.1">200</text>
<line x1="508.5" y1="122.8" x2="508.5" y2="125.8" stroke="#000" stroke-width="1" shape-rendering="geometricPrecision"/>
<text transform="translate(510.6 135.8) rotate(-45) scale(1 1.1)" font-family="Liberation Sans, sans-serif" font-size="9.8" text-anchor="end" fill="#000" stroke="#000" stroke-width="0.12">T24-32 vs T20</text>
<line x1="301.8" y1="122.9" x2="535.5" y2="122.9" stroke="#333" stroke-width="1.4" shape-rendering="geometricPrecision"/>
<rect x="310.2" y="21.8" width="17.80000000000001" height="3.2" fill="#000"/>
<rect x="353" y="21.8" width="17.5" height="3.2" fill="#ff0062"/>
<rect x="426.5" y="21.8" width="17.5" height="3.2" fill="#008080"/>
<text transform="translate(331 26.8) scale(1 1.1)" font-family="Liberation Sans, sans-serif" font-size="9.5" text-anchor="start" fill="#000" stroke="#000" stroke-width="0.12">Total</text>
<text transform="translate(374 26.8) scale(1 1.1)" font-family="Liberation Sans, sans-serif" font-size="9.5" text-anchor="start" fill="#000" stroke="#000" stroke-width="0.12">Upregulated</text>
<text transform="translate(447.8 26.8) scale(1 1.1)" font-family="Liberation Sans, sans-serif" font-size="9.5" text-anchor="start" fill="#000" stroke="#000" stroke-width="0.12">Downregulated</text>
<polyline points="291.00,251.80 324.20,233.84 357.50,272.16 390.80,213.74" fill="none" stroke="#297474" stroke-width="0.8" stroke-linejoin="miter" shape-rendering="geometricPrecision"/>
<polyline points="291.00,258.50 324.20,238.40 357.50,285.83 390.80,223.12" fill="none" stroke="#297474" stroke-width="0.8" stroke-linejoin="miter" shape-rendering="geometricPrecision"/>
<polyline points="291.00,271.36 324.20,217.76 357.50,260.64 390.80,265.46" fill="none" stroke="#297474" stroke-width="0.8" stroke-linejoin="miter" shape-rendering="geometricPrecision"/>
<polyline points="291.00,259.30 324.20,207.31 357.50,241.88 390.80,247.24" fill="none" stroke="#0d1a1a" stroke-width="0.8" stroke-linejoin="miter" shape-rendering="geometricPrecision"/>
<polyline points="291.00,261.98 324.20,208.92 357.50,249.92 390.80,262.52" fill="none" stroke="#0d1a1a" stroke-width="0.8" stroke-linejoin="miter" shape-rendering="geometricPrecision"/>
<polyline points="291.00,263.32 324.20,209.99 357.50,252.60 390.80,261.98" fill="none" stroke="#0d1a1a" stroke-width="0.8" stroke-linejoin="miter" shape-rendering="geometricPrecision"/>
<polyline points="291.00,267.34 324.20,211.06 357.50,257.16 390.80,233.30" fill="none" stroke="#0d1a1a" stroke-width="0.8" stroke-linejoin="miter" shape-rendering="geometricPrecision"/>
<polyline points="291.00,270.02 324.20,211.86 357.50,259.30 390.80,254.48" fill="none" stroke="#0d1a1a" stroke-width="0.8" stroke-linejoin="miter" shape-rendering="geometricPrecision"/>
<polyline points="291.00,272.70 324.20,213.74 357.50,262.52 390.80,253.94" fill="none" stroke="#0d1a1a" stroke-width="0.8" stroke-linejoin="miter" shape-rendering="geometricPrecision"/>
<polyline points="291.00,275.38 324.20,215.08 357.50,264.66 390.80,237.86" fill="none" stroke="#0d1a1a" stroke-width="0.8" stroke-linejoin="miter" shape-rendering="geometricPrecision"/>
<polyline points="291.00,276.72 324.20,217.76 357.50,264.12 390.80,251.26" fill="none" stroke="#3a3a3a" stroke-width="0.8" stroke-linejoin="miter" shape-rendering="geometricPrecision"/>
<polyline points="291.00,279.40 324.20,219.10 357.50,265.20 390.80,243.22" fill="none" stroke="#3a3a3a" stroke-width="0.8" stroke-linejoin="miter" shape-rendering="geometricPrecision"/>
<polyline points="291.00,282.88 324.20,216.96 357.50,263.59 390.80,247.24" fill="none" stroke="#0d1a1a" stroke-width="0.8" stroke-linejoin="miter" shape-rendering="geometricPrecision"/>
<polyline points="291.00,268.68 324.20,208.38 357.50,252.60 390.80,255.28" fill="none" stroke="#0d1a1a" stroke-width="0.8" stroke-linejoin="miter" shape-rendering="geometricPrecision"/>
<polyline points="291.00,281.01 324.20,214.27 357.50,260.08 390.80,243.59" fill="none" stroke="#f2005a" stroke-width="0.8" stroke-linejoin="miter" shape-rendering="geometricPrecision"/>
<polyline points="291.00,280.85 324.20,214.20 357.50,262.46 390.80,243.09" fill="none" stroke="#f2005a" stroke-width="0.8" stroke-linejoin="miter" shape-rendering="geometricPrecision"/>
<polyline points="291.00,280.49 324.20,213.70 357.50,262.75 390.80,245.33" fill="none" stroke="#f2005a" stroke-width="0.8" stroke-linejoin="miter" shape-rendering="geometricPrecision"/>
<polyline points="291.00,282.08 324.20,213.66 357.50,260.82 390.80,248.13" fill="none" stroke="#f2005a" stroke-width="0.8" stroke-linejoin="miter" shape-rendering="geometricPrecision"/>
<polyline points="291.00,279.45 324.20,213.29 357.50,260.95 390.80,241.98" fill="none" stroke="#f2005a" stroke-width="0.8" stroke-linejoin="miter" shape-rendering="geometricPrecision"/>
<polyline points="291.00,281.88 324.20,215.58 357.50,261.35 390.80,247.94" fill="none" stroke="#f2005a" stroke-width="0.8" stroke-linejoin="miter" shape-rendering="geometricPrecision"/>
<polyline points="291.00,281.79 324.20,215.03 357.50,262.96 390.80,243.61" fill="none" stroke="#f2005a" stroke-width="0.8" stroke-linejoin="miter" shape-rendering="geometricPrecision"/>
<polyline points="291.00,281.05 324.20,213.58 357.50,261.38 390.80,241.72" fill="none" stroke="#f2005a" stroke-width="0.8" stroke-linejoin="miter" shape-rendering="geometricPrecision"/>
<polyline points="291.00,280.87 324.20,214.02 357.50,261.58 390.80,245.60" fill="none" stroke="#f2005a" stroke-width="0.8" stroke-linejoin="miter" shape-rendering="geometricPrecision"/>
<rect x="289.8" y="204.4" width="102.5" height="85.49999999999997" fill="none" stroke="#000" stroke-width="1" shape-rendering="geometricPrecision"/>
<line x1="287.40000000000003" y1="205.70" x2="289.8" y2="205.70" stroke="#000" stroke-width="1" shape-rendering="geometricPrecision"/>
<text transform="translate(285.40000000000003 209.30000000000004) scale(1 1.1)" font-family="Liberation Sans, sans-serif" font-size="9.3" text-anchor="end" fill="#000" stroke="#000" stroke-width="0.12">1.5</text>
<line x1="288.2" y1="219.10" x2="289.8" y2="219.10" stroke="#000" stroke-width="1" shape-rendering="geometricPrecision"/>
<line x1="287.40000000000003" y1="232.50" x2="289.8" y2="232.50" stroke="#000" stroke-width="1" shape-rendering="geometricPrecision"/>
<text transform="translate(285.40000000000003 236.10000000000002) scale(1 1.1)" font-family="Liberation Sans, sans-serif" font-size="9.3" text-anchor="end" fill="#000" stroke="#000" stroke-width="0.12">0.5</text>
<line x1="288.2" y1="245.90" x2="289.8" y2="245.90" stroke="#000" stroke-width="1" shape-rendering="geometricPrecision"/>
<line x1="287.40000000000003" y1="259.30" x2="289.8" y2="259.30" stroke="#000" stroke-width="1" shape-rendering="geometricPrecision"/>
<text transform="translate(285.40000000000003 262.90000000000003) scale(1 1.1)" font-family="Liberation Sans, sans-serif" font-size="9.3" text-anchor="end" fill="#000" stroke="#000" stroke-width="0.12">−0.5</text>
<line x1="288.2" y1="272.70" x2="289.8" y2="272.70" stroke="#000" stroke-width="1" shape-rendering="geometricPrecision"/>
<line x1="287.40000000000003" y1="286.10" x2="289.8" y2="286.10" stroke="#000" stroke-width="1" shape-rendering="geometricPrecision"/>
<text transform="translate(285.40000000000003 289.70000000000005) scale(1 1.1)" font-family="Liberation Sans, sans-serif" font-size="9.3" text-anchor="end" fill="#000" stroke="#000" stroke-width="0.12">−1.5</text>
<line x1="291.00" y1="289.9" x2="291.00" y2="291.7" stroke="#000" stroke-width="1" shape-rendering="geometricPrecision"/>
<text transform="translate(291.0 301.5) scale(1 1.1)" font-family="Liberation Sans, sans-serif" font-size="9.3" text-anchor="middle" fill="#000" stroke="#000" stroke-width="0.12">T20</text>
<line x1="324.20" y1="289.9" x2="324.20" y2="291.7" stroke="#000" stroke-width="1" shape-rendering="geometricPrecision"/>
<text transform="translate(324.2 301.5) scale(1 1.1)" font-family="Liberation Sans, sans-serif" font-size="9.3" text-anchor="middle" fill="#000" stroke="#000" stroke-width="0.12">T24</text>
<line x1="357.50" y1="289.9" x2="357.50" y2="291.7" stroke="#000" stroke-width="1" shape-rendering="geometricPrecision"/>
<text transform="translate(357.5 301.5) scale(1 1.1)" font-family="Liberation Sans, sans-serif" font-size="9.3" text-anchor="middle" fill="#000" stroke="#000" stroke-width="0.12">T28</text>
<line x1="390.80" y1="289.9" x2="390.80" y2="291.7" stroke="#000" stroke-width="1" shape-rendering="geometricPrecision"/>
<text transform="translate(390.8 301.5) scale(1 1.1)" font-family="Liberation Sans, sans-serif" font-size="9.3" text-anchor="middle" fill="#000" stroke="#000" stroke-width="0.12">T32</text>
<text transform="translate(263.5 245.50000000000003) rotate(-90) scale(1 1.1)" font-family="Liberation Sans, sans-serif" font-size="9.5" text-anchor="middle" fill="#000" stroke="#000" stroke-width="0.12">Expression change</text>
<text transform="translate(338.5 195.6) scale(1 1.1)" font-family="Liberation Sans, sans-serif" font-size="9.3" text-anchor="middle" fill="#000" stroke="#000" stroke-width="0.12">Cluster 1 (46 miRNAs)</text>
<text transform="translate(255.5 192.3) scale(1 1.0)" font-family="Liberation Sans, sans-serif" font-size="11.8" text-anchor="start" fill="#000" stroke="#000" stroke-width="0.55">C</text>
<polyline points="438.70,208.11 471.90,284.76 505.20,221.78 538.50,256.62" fill="none" stroke="#0d1a1a" stroke-width="0.8" stroke-linejoin="miter" shape-rendering="geometricPrecision"/>
<polyline points="438.70,211.06 471.90,282.08 505.20,224.46 538.50,259.30" fill="none" stroke="#0d1a1a" stroke-width="0.8" stroke-linejoin="miter" shape-rendering="geometricPrecision"/>
<polyline points="438.70,216.42 471.90,278.06 505.20,227.14 538.50,270.02" fill="none" stroke="#0d1a1a" stroke-width="0.8" stroke-linejoin="miter" shape-rendering="geometricPrecision"/>
<polyline points="438.70,220.44 471.90,275.38 505.20,228.48 538.50,254.74" fill="none" stroke="#0d1a1a" stroke-width="0.8" stroke-linejoin="miter" shape-rendering="geometricPrecision"/>
<polyline points="438.70,224.46 471.90,272.70 505.20,237.86 538.50,275.38" fill="none" stroke="#3a3a3a" stroke-width="0.8" stroke-linejoin="miter" shape-rendering="geometricPrecision"/>
<polyline points="438.70,229.82 471.90,271.36 505.20,246.44 538.50,261.98" fill="none" stroke="#0d1a1a" stroke-width="0.8" stroke-linejoin="miter" shape-rendering="geometricPrecision"/>
<polyline points="438.70,228.48 471.90,280.74 505.20,251.26 538.50,270.02" fill="none" stroke="#0d1a1a" stroke-width="0.8" stroke-linejoin="miter" shape-rendering="geometricPrecision"/>
<polyline points="438.70,213.74 471.90,283.42 505.20,225.80 538.50,264.66" fill="none" stroke="#0d1a1a" stroke-width="0.8" stroke-linejoin="miter" shape-rendering="geometricPrecision"/>
<polyline points="438.70,219.10 471.90,276.72 505.20,231.16 538.50,266.00" fill="none" stroke="#3a3a3a" stroke-width="0.8" stroke-linejoin="miter" shape-rendering="geometricPrecision"/>
<polyline points="438.70,219.10 471.90,253.14 505.20,240.81 538.50,256.08" fill="none" stroke="#297474" stroke-width="0.8" stroke-linejoin="miter" shape-rendering="geometricPrecision"/>
<polyline points="438.70,231.16 471.90,269.48 505.20,215.35 538.50,284.76" fill="none" stroke="#297474" stroke-width="0.8" stroke-linejoin="miter" shape-rendering="geometricPrecision"/>
<polyline points="438.70,232.50 471.90,274.04 505.20,244.56 538.50,255.28" fill="none" stroke="#297474" stroke-width="0.8" stroke-linejoin="miter" shape-rendering="geometricPrecision"/>
<polyline points="438.70,214.81 471.90,278.06 505.20,233.84 538.50,266.54" fill="none" stroke="#c4003c" stroke-width="1.3" stroke-linejoin="miter" shape-rendering="geometricPrecision"/>
<polyline points="438.70,215.88 471.90,276.72 505.20,235.72 538.50,264.66" fill="none" stroke="#c4003c" stroke-width="0.7" stroke-linejoin="miter" shape-rendering="geometricPrecision"/>
<rect x="437.5" y="204.4" width="102.5" height="85.49999999999997" fill="none" stroke="#000" stroke-width="1" shape-rendering="geometricPrecision"/>
<line x1="435.1" y1="205.70" x2="437.5" y2="205.70" stroke="#000" stroke-width="1" shape-rendering="geometricPrecision"/>
<text transform="translate(433.1 209.30000000000004) scale(1 1.1)" font-family="Liberation Sans, sans-serif" font-size="9.3" text-anchor="end" fill="#000" stroke="#000" stroke-width="0.12">1.5</text>
<line x1="435.9" y1="219.10" x2="437.5" y2="219.10" stroke="#000" stroke-width="1" shape-rendering="geometricPrecision"/>
<line x1="435.1" y1="232.50" x2="437.5" y2="232.50" stroke="#000" stroke-width="1" shape-rendering="geometricPrecision"/>
<text transform="translate(433.1 236.10000000000002) scale(1 1.1)" font-family="Liberation Sans, sans-serif" font-size="9.3" text-anchor="end" fill="#000" stroke="#000" stroke-width="0.12">0.5</text>
<line x1="435.9" y1="245.90" x2="437.5" y2="245.90" stroke="#000" stroke-width="1" shape-rendering="geometricPrecision"/>
<line x1="435.1" y1="259.30" x2="437.5" y2="259.30" stroke="#000" stroke-width="1" shape-rendering="geometricPrecision"/>
<text transform="translate(433.1 262.90000000000003) scale(1 1.1)" font-family="Liberation Sans, sans-serif" font-size="9.3" text-anchor="end" fill="#000" stroke="#000" stroke-width="0.12">−0.5</text>
<line x1="435.9" y1="272.70" x2="437.5" y2="272.70" stroke="#000" stroke-width="1" shape-rendering="geometricPrecision"/>
<line x1="435.1" y1="286.10" x2="437.5" y2="286.10" stroke="#000" stroke-width="1" shape-rendering="geometricPrecision"/>
<text transform="translate(433.1 289.70000000000005) scale(1 1.1)" font-family="Liberation Sans, sans-serif" font-size="9.3" text-anchor="end" fill="#000" stroke="#000" stroke-width="0.12">−1.5</text>
<line x1="438.70" y1="289.9" x2="438.70" y2="291.7" stroke="#000" stroke-width="1" shape-rendering="geometricPrecision"/>
<text transform="translate(438.7 301.5) scale(1 1.1)" font-family="Liberation Sans, sans-serif" font-size="9.3" text-anchor="middle" fill="#000" stroke="#000" stroke-width="0.12">T20</text>
<line x1="471.90" y1="289.9" x2="471.90" y2="291.7" stroke="#000" stroke-width="1" shape-rendering="geometricPrecision"/>
<text transform="translate(471.9 301.5) scale(1 1.1)" font-family="Liberation Sans, sans-serif" font-size="9.3" text-anchor="middle" fill="#000" stroke="#000" stroke-width="0.12">T24</text>
<line x1="505.20" y1="289.9" x2="505.20" y2="291.7" stroke="#000" stroke-width="1" shape-rendering="geometricPrecision"/>
<text transform="translate(505.2 301.5) scale(1 1.1)" font-family="Liberation Sans, sans-serif" font-size="9.3" text-anchor="middle" fill="#000" stroke="#000" stroke-width="0.12">T28</text>
<line x1="538.50" y1="289.9" x2="538.50" y2="291.7" stroke="#000" stroke-width="1" shape-rendering="geometricPrecision"/>
<text transform="translate(538.5 301.5) scale(1 1.1)" font-family="Liberation Sans, sans-serif" font-size="9.3" text-anchor="middle" fill="#000" stroke="#000" stroke-width="0.12">T32</text>
<text transform="translate(411.2 245.50000000000003) rotate(-90) scale(1 1.1)" font-family="Liberation Sans, sans-serif" font-size="9.5" text-anchor="middle" fill="#000" stroke="#000" stroke-width="0.12">Expression change</text>
<text transform="translate(486.2 195.6) scale(1 1.1)" font-family="Liberation Sans, sans-serif" font-size="9.3" text-anchor="middle" fill="#000" stroke="#000" stroke-width="0.12">Cluster 2 (26 miRNAs)</text>
<text transform="translate(401.4 192.5) scale(1 1.0)" font-family="Liberation Sans, sans-serif" font-size="11.8" text-anchor="start" font-weight="bold" fill="#000">D</text>
<polyline points="291.00,349.19 324.20,345.54 357.50,386.21 390.80,401.41" fill="none" stroke="#3a3a3a" stroke-width="0.7" stroke-linejoin="miter" shape-rendering="geometricPrecision"/>
<polyline points="291.00,335.19 324.20,362.00 357.50,397.29 390.80,393.06" fill="none" stroke="#0d1a1a" stroke-width="0.7" stroke-linejoin="miter" shape-rendering="geometricPrecision"/>
<polyline points="291.00,345.52 324.20,351.12 357.50,386.08 390.80,402.91" fill="none" stroke="#0d1a1a" stroke-width="0.7" stroke-linejoin="miter" shape-rendering="geometricPrecision"/>
<polyline points="291.00,348.71 324.20,346.49 357.50,403.09 390.80,386.67" fill="none" stroke="#0d1a1a" stroke-width="0.7" stroke-linejoin="miter" shape-rendering="geometricPrecision"/>
<polyline points="291.00,348.77 324.20,347.64 357.50,383.39 390.80,405.56" fill="none" stroke="#3a3a3a" stroke-width="0.7" stroke-linejoin="miter" shape-rendering="geometricPrecision"/>
<polyline points="291.00,330.74 324.20,367.84 357.50,387.45 390.80,402.05" fill="none" stroke="#0d1a1a" stroke-width="0.7" stroke-linejoin="miter" shape-rendering="geometricPrecision"/>
<polyline points="291.00,330.74 324.20,367.50 357.50,383.72 390.80,403.68" fill="none" stroke="#0d1a1a" stroke-width="0.7" stroke-linejoin="miter" shape-rendering="geometricPrecision"/>
<polyline points="291.00,330.74 324.20,366.75 357.50,401.07 390.80,389.33" fill="none" stroke="#0d1a1a" stroke-width="0.7" stroke-linejoin="miter" shape-rendering="geometricPrecision"/>
<polyline points="291.00,346.98 324.20,350.38 357.50,391.86 390.80,396.88" fill="none" stroke="#3a3a3a" stroke-width="0.7" stroke-linejoin="miter" shape-rendering="geometricPrecision"/>
<polyline points="291.00,330.74 324.20,365.00 357.50,400.47 390.80,387.43" fill="none" stroke="#0d1a1a" stroke-width="0.7" stroke-linejoin="miter" shape-rendering="geometricPrecision"/>
<polyline points="291.00,330.74 324.20,366.79 357.50,398.82 390.80,390.68" fill="none" stroke="#0d1a1a" stroke-width="0.7" stroke-linejoin="miter" shape-rendering="geometricPrecision"/>
<polyline points="291.00,349.16 324.20,346.18 357.50,396.99 390.80,389.88" fill="none" stroke="#0d1a1a" stroke-width="0.7" stroke-linejoin="miter" shape-rendering="geometricPrecision"/>
<polyline points="291.00,332.14 324.20,364.52 357.50,385.93 390.80,401.98" fill="none" stroke="#3a3a3a" stroke-width="0.7" stroke-linejoin="miter" shape-rendering="geometricPrecision"/>
<polyline points="291.00,330.74 324.20,367.18 357.50,398.81 390.80,390.73" fill="none" stroke="#0d1a1a" stroke-width="0.7" stroke-linejoin="miter" shape-rendering="geometricPrecision"/>
<polyline points="291.00,345.91 324.20,350.96 357.50,397.14 390.80,393.20" fill="none" stroke="#0d1a1a" stroke-width="0.7" stroke-linejoin="miter" shape-rendering="geometricPrecision"/>
<polyline points="291.00,330.74 324.20,367.43 357.50,398.22 390.80,389.86" fill="none" stroke="#0d1a1a" stroke-width="0.7" stroke-linejoin="miter" shape-rendering="geometricPrecision"/>
<polyline points="291.00,335.84 324.20,360.63 357.50,383.82 390.80,404.76" fill="none" stroke="#3a3a3a" stroke-width="0.7" stroke-linejoin="miter" shape-rendering="geometricPrecision"/>
<polyline points="291.00,339.40 324.20,355.74 357.50,399.43 390.80,390.57" fill="none" stroke="#0d1a1a" stroke-width="0.7" stroke-linejoin="miter" shape-rendering="geometricPrecision"/>
<polyline points="291.00,347.61 324.20,347.69 357.50,398.09 390.80,391.76" fill="none" stroke="#0d1a1a" stroke-width="0.7" stroke-linejoin="miter" shape-rendering="geometricPrecision"/>
<polyline points="291.00,343.14 324.20,351.77 357.50,399.15 390.80,387.43" fill="none" stroke="#0d1a1a" stroke-width="0.7" stroke-linejoin="miter" shape-rendering="geometricPrecision"/>
<polyline points="291.00,347.67 324.20,348.32 357.50,394.63 390.80,395.58" fill="none" stroke="#3a3a3a" stroke-width="0.7" stroke-linejoin="miter" shape-rendering="geometricPrecision"/>
<polyline points="291.00,330.74 324.20,368.67 357.50,398.31 390.80,389.33" fill="none" stroke="#0d1a1a" stroke-width="0.7" stroke-linejoin="miter" shape-rendering="geometricPrecision"/>
<polyline points="291.00,331.88 324.20,363.40 357.50,391.11 390.80,398.29" fill="none" stroke="#0d1a1a" stroke-width="0.7" stroke-linejoin="miter" shape-rendering="geometricPrecision"/>
<polyline points="291.00,330.74 324.20,365.37 357.50,401.72 390.80,387.96" fill="none" stroke="#0d1a1a" stroke-width="0.7" stroke-linejoin="miter" shape-rendering="geometricPrecision"/>
<polyline points="291.00,339.08 324.20,356.11 357.50,390.75 390.80,398.70" fill="none" stroke="#3a3a3a" stroke-width="0.7" stroke-linejoin="miter" shape-rendering="geometricPrecision"/>
<polyline points="291.00,349.80 324.20,347.47 357.50,402.77 390.80,386.73" fill="none" stroke="#0d1a1a" stroke-width="0.7" stroke-linejoin="miter" shape-rendering="geometricPrecision"/>
<polyline points="291.00,338.88 324.20,358.85 357.50,399.56 390.80,389.52" fill="none" stroke="#0d1a1a" stroke-width="0.7" stroke-linejoin="miter" shape-rendering="geometricPrecision"/>
<polyline points="291.00,341.71 324.20,355.80 357.50,395.82 390.80,391.01" fill="none" stroke="#0d1a1a" stroke-width="0.7" stroke-linejoin="miter" shape-rendering="geometricPrecision"/>
<polyline points="291.00,349.86 324.20,345.95 357.50,389.21 390.80,398.94" fill="none" stroke="#3a3a3a" stroke-width="0.7" stroke-linejoin="miter" shape-rendering="geometricPrecision"/>
<polyline points="291.00,331.60 324.20,366.21 357.50,402.74 390.80,384.01" fill="none" stroke="#0d1a1a" stroke-width="0.7" stroke-linejoin="miter" shape-rendering="geometricPrecision"/>
<polyline points="291.00,362.36 324.20,333.96 357.50,389.70 390.80,399.08" fill="none" stroke="#1a4f4f" stroke-width="0.9" stroke-linejoin="miter" shape-rendering="geometricPrecision"/>
<polyline points="291.00,358.88 324.20,335.30 357.50,393.72 390.80,395.06" fill="none" stroke="#1a4f4f" stroke-width="0.9" stroke-linejoin="miter" shape-rendering="geometricPrecision"/>
<polyline points="291.00,354.86 324.20,336.90 357.50,386.22 390.80,401.76" fill="none" stroke="#1a4f4f" stroke-width="0.9" stroke-linejoin="miter" shape-rendering="geometricPrecision"/>
<polyline points="291.00,352.18 324.20,336.10 357.50,396.40 390.80,392.38" fill="none" stroke="#1a4f4f" stroke-width="0.9" stroke-linejoin="miter" shape-rendering="geometricPrecision"/>
<polyline points="291.00,349.50 324.20,346.82 357.50,409.53 390.80,379.25" fill="none" stroke="#297474" stroke-width="0.8" stroke-linejoin="miter" shape-rendering="geometricPrecision"/>
<polyline points="291.00,340.12 324.20,356.20 357.50,373.62 390.80,403.90" fill="none" stroke="#297474" stroke-width="0.8" stroke-linejoin="miter" shape-rendering="geometricPrecision"/>
<polyline points="291.00,331.28 324.20,365.04 357.50,376.30 390.80,393.72" fill="none" stroke="#0d1a1a" stroke-width="0.9" stroke-linejoin="miter" shape-rendering="geometricPrecision"/>
<polyline points="291.00,338.24 324.20,358.08 357.50,393.18 390.80,395.06" fill="none" stroke="#c4003c" stroke-width="0.9" stroke-linejoin="miter" shape-rendering="geometricPrecision"/>
<polyline points="291.00,340.66 324.20,355.66 357.50,391.04 390.80,396.40" fill="none" stroke="#c4003c" stroke-width="0.8" stroke-linejoin="miter" shape-rendering="geometricPrecision"/>
<polyline points="291.00,336.10 324.20,360.22 357.50,395.06 390.80,393.72" fill="none" stroke="#c4003c" stroke-width="0.8" stroke-linejoin="miter" shape-rendering="geometricPrecision"/>
<polyline points="291.00,342.80 324.20,353.52 357.50,389.70 390.80,397.74" fill="none" stroke="#c4003c" stroke-width="0.8" stroke-linejoin="miter" shape-rendering="geometricPrecision"/>
<polyline points="291.00,339.58 324.20,356.74 357.50,396.40 390.80,392.38" fill="none" stroke="#c4003c" stroke-width="0.8" stroke-linejoin="miter" shape-rendering="geometricPrecision"/>
<polyline points="291.00,337.44 324.20,358.88 357.50,388.36 390.80,399.08" fill="none" stroke="#c4003c" stroke-width="0.8" stroke-linejoin="miter" shape-rendering="geometricPrecision"/>
<rect x="289.8" y="328.1" width="102.5" height="85.5" fill="none" stroke="#000" stroke-width="1" shape-rendering="geometricPrecision"/>
<line x1="287.40000000000003" y1="329.40" x2="289.8" y2="329.40" stroke="#000" stroke-width="1" shape-rendering="geometricPrecision"/>
<text transform="translate(285.40000000000003 333.00000000000006) scale(1 1.1)" font-family="Liberation Sans, sans-serif" font-size="9.3" text-anchor="end" fill="#000" stroke="#000" stroke-width="0.12">1.5</text>
<line x1="288.2" y1="342.80" x2="289.8" y2="342.80" stroke="#000" stroke-width="1" shape-rendering="geometricPrecision"/>
<line x1="287.40000000000003" y1="356.20" x2="289.8" y2="356.20" stroke="#000" stroke-width="1" shape-rendering="geometricPrecision"/>
<text transform="translate(285.40000000000003 359.80000000000007) scale(1 1.1)" font-family="Liberation Sans, sans-serif" font-size="9.3" text-anchor="end" fill="#000" stroke="#000" stroke-width="0.12">0.5</text>
<line x1="288.2" y1="369.60" x2="289.8" y2="369.60" stroke="#000" stroke-width="1" shape-rendering="geometricPrecision"/>
<line x1="287.40000000000003" y1="383.00" x2="289.8" y2="383.00" stroke="#000" stroke-width="1" shape-rendering="geometricPrecision"/>
<text transform="translate(285.40000000000003 386.6) scale(1 1.1)" font-family="Liberation Sans, sans-serif" font-size="9.3" text-anchor="end" fill="#000" stroke="#000" stroke-width="0.12">−0.5</text>
<line x1="288.2" y1="396.40" x2="289.8" y2="396.40" stroke="#000" stroke-width="1" shape-rendering="geometricPrecision"/>
<line x1="287.40000000000003" y1="409.80" x2="289.8" y2="409.80" stroke="#000" stroke-width="1" shape-rendering="geometricPrecision"/>
<text transform="translate(285.40000000000003 413.40000000000003) scale(1 1.1)" font-family="Liberation Sans, sans-serif" font-size="9.3" text-anchor="end" fill="#000" stroke="#000" stroke-width="0.12">−1.5</text>
<line x1="291.00" y1="413.6" x2="291.00" y2="415.40000000000003" stroke="#000" stroke-width="1" shape-rendering="geometricPrecision"/>
<text transform="translate(291.0 425.20000000000005) scale(1 1.1)" font-family="Liberation Sans, sans-serif" font-size="9.3" text-anchor="middle" fill="#000" stroke="#000" stroke-width="0.12">T20</text>
<line x1="324.20" y1="413.6" x2="324.20" y2="415.40000000000003" stroke="#000" stroke-width="1" shape-rendering="geometricPrecision"/>
<text transform="translate(324.2 425.20000000000005) scale(1 1.1)" font-family="Liberation Sans, sans-serif" font-size="9.3" text-anchor="middle" fill="#000" stroke="#000" stroke-width="0.12">T24</text>
<line x1="357.50" y1="413.6" x2="357.50" y2="415.40000000000003" stroke="#000" stroke-width="1" shape-rendering="geometricPrecision"/>
<text transform="translate(357.5 425.20000000000005) scale(1 1.1)" font-family="Liberation Sans, sans-serif" font-size="9.3" text-anchor="middle" fill="#000" stroke="#000" stroke-width="0.12">T28</text>
<line x1="390.80" y1="413.6" x2="390.80" y2="415.40000000000003" stroke="#000" stroke-width="1" shape-rendering="geometricPrecision"/>
<text transform="translate(390.8 425.20000000000005) scale(1 1.1)" font-family="Liberation Sans, sans-serif" font-size="9.3" text-anchor="middle" fill="#000" stroke="#000" stroke-width="0.12">T32</text>
<text transform="translate(263.5 369.20000000000005) rotate(-90) scale(1 1.1)" font-family="Liberation Sans, sans-serif" font-size="9.5" text-anchor="middle" fill="#000" stroke="#000" stroke-width="0.12">Expression change</text>
<text transform="translate(338.5 319.3) scale(1 1.1)" font-family="Liberation Sans, sans-serif" font-size="9.3" text-anchor="middle" fill="#000" stroke="#000" stroke-width="0.12">Cluster 3 (51 miRNAs)</text>
<text transform="translate(255.9 315.8) scale(1 1.0)" font-family="Liberation Sans, sans-serif" font-size="11.8" text-anchor="start" fill="#000" stroke="#000" stroke-width="0.35">E</text>
<polyline points="438.70,374.96 471.90,409.53 505.20,340.12 538.50,377.64" fill="none" stroke="#0d1a1a" stroke-width="1.0" stroke-linejoin="miter" shape-rendering="geometricPrecision"/>
<polyline points="438.70,372.28 471.90,408.46 505.20,341.46 538.50,380.32" fill="none" stroke="#0d1a1a" stroke-width="0.9" stroke-linejoin="miter" shape-rendering="geometricPrecision"/>
<polyline points="438.70,391.04 471.90,380.32 505.20,340.66 538.50,376.30" fill="none" stroke="#3a3a3a" stroke-width="0.8" stroke-linejoin="miter" shape-rendering="geometricPrecision"/>
<polyline points="438.70,395.06 471.90,385.68 505.20,339.58 538.50,383.00" fill="none" stroke="#0d1a1a" stroke-width="0.8" stroke-linejoin="miter" shape-rendering="geometricPrecision"/>
<polyline points="438.70,383.00 471.90,388.36 505.20,342.80 538.50,381.66" fill="none" stroke="#3a3a3a" stroke-width="0.8" stroke-linejoin="miter" shape-rendering="geometricPrecision"/>
<polyline points="438.70,396.40 471.90,377.64 505.20,342.80 538.50,378.98" fill="none" stroke="#0d1a1a" stroke-width="0.8" stroke-linejoin="miter" shape-rendering="geometricPrecision"/>
<polyline points="438.70,378.98 471.90,396.40 505.20,340.12 538.50,384.34" fill="none" stroke="#0d1a1a" stroke-width="0.8" stroke-linejoin="miter" shape-rendering="geometricPrecision"/>
<polyline points="438.70,389.70 471.90,392.38 505.20,338.78 538.50,385.68" fill="none" stroke="#0d1a1a" stroke-width="0.8" stroke-linejoin="miter" shape-rendering="geometricPrecision"/>
<polyline points="438.70,377.64 471.90,409.53 505.20,340.66 538.50,377.10" fill="none" stroke="#0d1a1a" stroke-width="1.0" stroke-linejoin="miter" shape-rendering="geometricPrecision"/>
<polyline points="438.70,361.83 471.90,408.46 505.20,340.12 538.50,377.64" fill="none" stroke="#297474" stroke-width="0.8" stroke-linejoin="miter" shape-rendering="geometricPrecision"/>
<polyline points="438.70,403.10 471.90,361.83 505.20,342.80 538.50,406.32" fill="none" stroke="#297474" stroke-width="0.8" stroke-linejoin="miter" shape-rendering="geometricPrecision"/>
<polyline points="438.70,370.94 471.90,409.53 505.20,341.46 538.50,383.00" fill="none" stroke="#297474" stroke-width="0.8" stroke-linejoin="miter" shape-rendering="geometricPrecision"/>
<polyline points="438.70,381.66 471.90,391.04 505.20,334.76 538.50,385.68" fill="none" stroke="#7a0a2c" stroke-width="1.1" stroke-linejoin="miter" shape-rendering="geometricPrecision"/>
<polyline points="438.70,385.68 471.90,399.08 505.20,332.62 538.50,388.90" fill="none" stroke="#7a0a2c" stroke-width="1.1" stroke-linejoin="miter" shape-rendering="geometricPrecision"/>
<polyline points="438.70,388.36 471.90,395.06 505.20,333.96 538.50,387.82" fill="none" stroke="#7a0a2c" stroke-width="0.9" stroke-linejoin="miter" shape-rendering="geometricPrecision"/>
<rect x="437.5" y="328.1" width="102.5" height="85.5" fill="none" stroke="#000" stroke-width="1" shape-rendering="geometricPrecision"/>
<line x1="435.1" y1="329.40" x2="437.5" y2="329.40" stroke="#000" stroke-width="1" shape-rendering="geometricPrecision"/>
<text transform="translate(433.1 333.00000000000006) scale(1 1.1)" font-family="Liberation Sans, sans-serif" font-size="9.3" text-anchor="end" fill="#000" stroke="#000" stroke-width="0.12">1.5</text>
<line x1="435.9" y1="342.80" x2="437.5" y2="342.80" stroke="#000" stroke-width="1" shape-rendering="geometricPrecision"/>
<line x1="435.1" y1="356.20" x2="437.5" y2="356.20" stroke="#000" stroke-width="1" shape-rendering="geometricPrecision"/>
<text transform="translate(433.1 359.80000000000007) scale(1 1.1)" font-family="Liberation Sans, sans-serif" font-size="9.3" text-anchor="end" fill="#000" stroke="#000" stroke-width="0.12">0.5</text>
<line x1="435.9" y1="369.60" x2="437.5" y2="369.60" stroke="#000" stroke-width="1" shape-rendering="geometricPrecision"/>
<line x1="435.1" y1="383.00" x2="437.5" y2="383.00" stroke="#000" stroke-width="1" shape-rendering="geometricPrecision"/>
<text transform="translate(433.1 386.6) scale(1 1.1)" font-family="Liberation Sans, sans-serif" font-size="9.3" text-anchor="end" fill="#000" stroke="#000" stroke-width="0.12">−0.5</text>
<line x1="435.9" y1="396.40" x2="437.5" y2="396.40" stroke="#000" stroke-width="1" shape-rendering="geometricPrecision"/>
<line x1="435.1" y1="409.80" x2="437.5" y2="409.80" stroke="#000" stroke-width="1" shape-rendering="geometricPrecision"/>
<text transform="translate(433.1 413.40000000000003) scale(1 1.1)" font-family="Liberation Sans, sans-serif" font-size="9.3" text-anchor="end" fill="#000" stroke="#000" stroke-width="0.12">−1.5</text>
<line x1="438.70" y1="413.6" x2="438.70" y2="415.40000000000003" stroke="#000" stroke-width="1" shape-rendering="geometricPrecision"/>
<text transform="translate(438.7 425.20000000000005) scale(1 1.1)" font-family="Liberation Sans, sans-serif" font-size="9.3" text-anchor="middle" fill="#000" stroke="#000" stroke-width="0.12">T20</text>
<line x1="471.90" y1="413.6" x2="471.90" y2="415.40000000000003" stroke="#000" stroke-width="1" shape-rendering="geometricPrecision"/>
<text transform="translate(471.9 425.20000000000005) scale(1 1.1)" font-family="Liberation Sans, sans-serif" font-size="9.3" text-anchor="middle" fill="#000" stroke="#000" stroke-width="0.12">T24</text>
<line x1="505.20" y1="413.6" x2="505.20" y2="415.40000000000003" stroke="#000" stroke-width="1" shape-rendering="geometricPrecision"/>
<text transform="translate(505.2 425.20000000000005) scale(1 1.1)" font-family="Liberation Sans, sans-serif" font-size="9.3" text-anchor="middle" fill="#000" stroke="#000" stroke-width="0.12">T28</text>
<line x1="538.50" y1="413.6" x2="538.50" y2="415.40000000000003" stroke="#000" stroke-width="1" shape-rendering="geometricPrecision"/>
<text transform="translate(538.5 425.20000000000005) scale(1 1.1)" font-family="Liberation Sans, sans-serif" font-size="9.3" text-anchor="middle" fill="#000" stroke="#000" stroke-width="0.12">T32</text>
<text transform="translate(411.2 369.20000000000005) rotate(-90) scale(1 1.1)" font-family="Liberation Sans, sans-serif" font-size="9.5" text-anchor="middle" fill="#000" stroke="#000" stroke-width="0.12">Expression change</text>
<text transform="translate(486.2 319.3) scale(1 1.1)" font-family="Liberation Sans, sans-serif" font-size="9.3" text-anchor="middle" fill="#000" stroke="#000" stroke-width="0.12">Cluster 4 (23 miRNAs)</text>
<text transform="translate(400.9 315.9) scale(1 1.0)" font-family="Liberation Sans, sans-serif" font-size="11.8" text-anchor="start" fill="#000" stroke="#000" stroke-width="0.3">F</text>
<polyline points="291.00,536.44 324.20,480.69 357.50,501.06 390.80,458.72" fill="none" stroke="#297474" stroke-width="0.8" stroke-linejoin="miter" shape-rendering="geometricPrecision"/>
<polyline points="291.00,533.22 324.20,480.69 357.50,466.22 390.80,475.60" fill="none" stroke="#1a4f4f" stroke-width="0.8" stroke-linejoin="miter" shape-rendering="geometricPrecision"/>
<polyline points="291.00,530.54 324.20,483.64 357.50,474.80 390.80,480.96" fill="none" stroke="#0d1a1a" stroke-width="0.9" stroke-linejoin="miter" shape-rendering="geometricPrecision"/>
<polyline points="291.00,527.86 324.20,487.66 357.50,494.36 390.80,466.49" fill="none" stroke="#0d1a1a" stroke-width="0.9" stroke-linejoin="miter" shape-rendering="geometricPrecision"/>
<polyline points="291.00,525.18 324.20,491.68 357.50,494.36 390.80,480.96" fill="none" stroke="#0d1a1a" stroke-width="0.8" stroke-linejoin="miter" shape-rendering="geometricPrecision"/>
<polyline points="291.00,517.14 324.20,503.74 357.50,468.90 390.80,490.88" fill="none" stroke="#297474" stroke-width="0.8" stroke-linejoin="miter" shape-rendering="geometricPrecision"/>
<polyline points="291.00,519.82 324.20,507.76 357.50,466.22 390.80,506.96" fill="none" stroke="#297474" stroke-width="0.8" stroke-linejoin="miter" shape-rendering="geometricPrecision"/>
<polyline points="291.00,521.16 324.20,512.58 357.50,505.08 390.80,471.58" fill="none" stroke="#297474" stroke-width="0.8" stroke-linejoin="miter" shape-rendering="geometricPrecision"/>
<polyline points="291.00,522.50 324.20,518.48 357.50,501.06 390.80,463.54" fill="none" stroke="#297474" stroke-width="0.8" stroke-linejoin="miter" shape-rendering="geometricPrecision"/>
<polyline points="291.00,518.48 324.20,501.06 357.50,472.92 390.80,475.60" fill="none" stroke="#297474" stroke-width="0.8" stroke-linejoin="miter" shape-rendering="geometricPrecision"/>
<polyline points="291.00,522.50 324.20,480.69 357.50,472.92 390.80,480.96" fill="none" stroke="#0d1a1a" stroke-width="0.8" stroke-linejoin="miter" shape-rendering="geometricPrecision"/>
<polyline points="291.00,534.56 324.20,482.30 357.50,470.24 390.80,463.54" fill="none" stroke="#1a4f4f" stroke-width="0.8" stroke-linejoin="miter" shape-rendering="geometricPrecision"/>
<polyline points="291.00,526.52 324.20,515.00 357.50,503.74 390.80,468.90" fill="none" stroke="#297474" stroke-width="0.8" stroke-linejoin="miter" shape-rendering="geometricPrecision"/>
<polyline points="291.00,535.90 324.20,486.32 357.50,474.80 390.80,460.86" fill="none" stroke="#0d1a1a" stroke-width="0.8" stroke-linejoin="miter" shape-rendering="geometricPrecision"/>
<polyline points="291.00,531.88 324.20,502.40 357.50,479.08 390.80,471.58" fill="none" stroke="#7a0a2c" stroke-width="1.0" stroke-linejoin="miter" shape-rendering="geometricPrecision"/>
<rect x="289.8" y="454.2" width="102.5" height="85.50000000000006" fill="none" stroke="#000" stroke-width="1" shape-rendering="geometricPrecision"/>
<line x1="287.40000000000003" y1="455.50" x2="289.8" y2="455.50" stroke="#000" stroke-width="1" shape-rendering="geometricPrecision"/>
<text transform="translate(285.40000000000003 459.1) scale(1 1.1)" font-family="Liberation Sans, sans-serif" font-size="9.3" text-anchor="end" fill="#000" stroke="#000" stroke-width="0.12">1.5</text>
<line x1="288.2" y1="468.90" x2="289.8" y2="468.90" stroke="#000" stroke-width="1" shape-rendering="geometricPrecision"/>
<line x1="287.40000000000003" y1="482.30" x2="289.8" y2="482.30" stroke="#000" stroke-width="1" shape-rendering="geometricPrecision"/>
<text transform="translate(285.40000000000003 485.90000000000003) scale(1 1.1)" font-family="Liberation Sans, sans-serif" font-size="9.3" text-anchor="end" fill="#000" stroke="#000" stroke-width="0.12">0.5</text>
<line x1="288.2" y1="495.70" x2="289.8" y2="495.70" stroke="#000" stroke-width="1" shape-rendering="geometricPrecision"/>
<line x1="287.40000000000003" y1="509.10" x2="289.8" y2="509.10" stroke="#000" stroke-width="1" shape-rendering="geometricPrecision"/>
<text transform="translate(285.40000000000003 512.6999999999999) scale(1 1.1)" font-family="Liberation Sans, sans-serif" font-size="9.3" text-anchor="end" fill="#000" stroke="#000" stroke-width="0.12">−0.5</text>
<line x1="288.2" y1="522.50" x2="289.8" y2="522.50" stroke="#000" stroke-width="1" shape-rendering="geometricPrecision"/>
<line x1="287.40000000000003" y1="535.90" x2="289.8" y2="535.90" stroke="#000" stroke-width="1" shape-rendering="geometricPrecision"/>
<text transform="translate(285.40000000000003 539.5) scale(1 1.1)" font-family="Liberation Sans, sans-serif" font-size="9.3" text-anchor="end" fill="#000" stroke="#000" stroke-width="0.12">−1.5</text>
<line x1="291.00" y1="539.7" x2="291.00" y2="541.5" stroke="#000" stroke-width="1" shape-rendering="geometricPrecision"/>
<text transform="translate(291.0 551.3000000000001) scale(1 1.1)" font-family="Liberation Sans, sans-serif" font-size="9.3" text-anchor="middle" fill="#000" stroke="#000" stroke-width="0.12">T20</text>
<line x1="324.20" y1="539.7" x2="324.20" y2="541.5" stroke="#000" stroke-width="1" shape-rendering="geometricPrecision"/>
<text transform="translate(324.2 551.3000000000001) scale(1 1.1)" font-family="Liberation Sans, sans-serif" font-size="9.3" text-anchor="middle" fill="#000" stroke="#000" stroke-width="0.12">T24</text>
<line x1="357.50" y1="539.7" x2="357.50" y2="541.5" stroke="#000" stroke-width="1" shape-rendering="geometricPrecision"/>
<text transform="translate(357.5 551.3000000000001) scale(1 1.1)" font-family="Liberation Sans, sans-serif" font-size="9.3" text-anchor="middle" fill="#000" stroke="#000" stroke-width="0.12">T28</text>
<line x1="390.80" y1="539.7" x2="390.80" y2="541.5" stroke="#000" stroke-width="1" shape-rendering="geometricPrecision"/>
<text transform="translate(390.8 551.3000000000001) scale(1 1.1)" font-family="Liberation Sans, sans-serif" font-size="9.3" text-anchor="middle" fill="#000" stroke="#000" stroke-width="0.12">T32</text>
<text transform="translate(263.5 495.3) rotate(-90) scale(1 1.1)" font-family="Liberation Sans, sans-serif" font-size="9.5" text-anchor="middle" fill="#000" stroke="#000" stroke-width="0.12">Expression change</text>
<text transform="translate(338.5 445.4) scale(1 1.1)" font-family="Liberation Sans, sans-serif" font-size="9.3" text-anchor="middle" fill="#000" stroke="#000" stroke-width="0.12">Cluster 5 (31 miRNAs)</text>
<text transform="translate(254.0 442.5) scale(1 1.0)" font-family="Liberation Sans, sans-serif" font-size="11.8" text-anchor="start" fill="#000" stroke="#000" stroke-width="0.35">G</text>
<polyline points="438.70,457.83 471.90,502.47 505.20,530.08 538.50,513.25" fill="none" stroke="#3a3a3a" stroke-width="0.7" stroke-linejoin="miter" shape-rendering="geometricPrecision"/>
<polyline points="438.70,458.36 471.90,507.95 505.20,523.70 538.50,506.43" fill="none" stroke="#0d1a1a" stroke-width="0.7" stroke-linejoin="miter" shape-rendering="geometricPrecision"/>
<polyline points="438.70,459.34 471.90,512.30 505.20,514.74 538.50,508.29" fill="none" stroke="#0d1a1a" stroke-width="0.7" stroke-linejoin="miter" shape-rendering="geometricPrecision"/>
<polyline points="438.70,457.74 471.90,508.58 505.20,513.53 538.50,508.01" fill="none" stroke="#3a3a3a" stroke-width="0.7" stroke-linejoin="miter" shape-rendering="geometricPrecision"/>
<polyline points="438.70,458.67 471.90,509.02 505.20,511.23 538.50,508.84" fill="none" stroke="#0d1a1a" stroke-width="0.7" stroke-linejoin="miter" shape-rendering="geometricPrecision"/>
<polyline points="438.70,458.51 471.90,506.54 505.20,512.03 538.50,514.43" fill="none" stroke="#0d1a1a" stroke-width="0.7" stroke-linejoin="miter" shape-rendering="geometricPrecision"/>
<polyline points="438.70,458.01 471.90,516.16 505.20,518.05 538.50,513.76" fill="none" stroke="#3a3a3a" stroke-width="0.7" stroke-linejoin="miter" shape-rendering="geometricPrecision"/>
<polyline points="438.70,459.33 471.90,510.10 505.20,509.24 538.50,508.68" fill="none" stroke="#0d1a1a" stroke-width="0.7" stroke-linejoin="miter" shape-rendering="geometricPrecision"/>
<polyline points="438.70,457.76 471.90,516.02 505.20,514.78 538.50,514.28" fill="none" stroke="#0d1a1a" stroke-width="0.7" stroke-linejoin="miter" shape-rendering="geometricPrecision"/>
<polyline points="438.70,458.46 471.90,505.41 505.20,528.74 538.50,511.11" fill="none" stroke="#3a3a3a" stroke-width="0.7" stroke-linejoin="miter" shape-rendering="geometricPrecision"/>
<polyline points="438.70,459.45 471.90,511.00 505.20,520.23 538.50,520.86" fill="none" stroke="#0d1a1a" stroke-width="0.7" stroke-linejoin="miter" shape-rendering="geometricPrecision"/>
<polyline points="438.70,457.84 471.90,513.45 505.20,517.37 538.50,507.91" fill="none" stroke="#0d1a1a" stroke-width="0.7" stroke-linejoin="miter" shape-rendering="geometricPrecision"/>
<polyline points="438.70,458.90 471.90,524.91 505.20,524.09 538.50,512.46" fill="none" stroke="#3a3a3a" stroke-width="0.7" stroke-linejoin="miter" shape-rendering="geometricPrecision"/>
<polyline points="438.70,459.03 471.90,521.18 505.20,511.12 538.50,512.80" fill="none" stroke="#0d1a1a" stroke-width="0.7" stroke-linejoin="miter" shape-rendering="geometricPrecision"/>
<polyline points="438.70,458.45 471.90,504.15 505.20,523.53 538.50,512.69" fill="none" stroke="#0d1a1a" stroke-width="0.7" stroke-linejoin="miter" shape-rendering="geometricPrecision"/>
<polyline points="438.70,459.04 471.90,515.02 505.20,513.26 538.50,508.03" fill="none" stroke="#3a3a3a" stroke-width="0.7" stroke-linejoin="miter" shape-rendering="geometricPrecision"/>
<polyline points="438.70,457.40 471.90,516.11 505.20,518.04 538.50,519.24" fill="none" stroke="#0d1a1a" stroke-width="0.7" stroke-linejoin="miter" shape-rendering="geometricPrecision"/>
<polyline points="438.70,459.19 471.90,513.47 505.20,512.59 538.50,509.26" fill="none" stroke="#0d1a1a" stroke-width="0.7" stroke-linejoin="miter" shape-rendering="geometricPrecision"/>
<polyline points="438.70,468.36 471.90,536.97 505.20,522.50 538.50,485.52" fill="none" stroke="#297474" stroke-width="0.8" stroke-linejoin="miter" shape-rendering="geometricPrecision"/>
<polyline points="438.70,467.56 471.90,527.32 505.20,527.86 538.50,527.86" fill="none" stroke="#297474" stroke-width="0.8" stroke-linejoin="miter" shape-rendering="geometricPrecision"/>
<polyline points="438.70,458.18 471.90,519.82 505.20,509.90 538.50,490.34" fill="none" stroke="#297474" stroke-width="0.8" stroke-linejoin="miter" shape-rendering="geometricPrecision"/>
<polyline points="438.70,458.72 471.90,527.86 505.20,517.14 538.50,519.82" fill="none" stroke="#1a4f4f" stroke-width="0.8" stroke-linejoin="miter" shape-rendering="geometricPrecision"/>
<polyline points="438.70,457.64 471.90,502.40 505.20,530.54 538.50,511.78" fill="none" stroke="#0d1a1a" stroke-width="0.9" stroke-linejoin="miter" shape-rendering="geometricPrecision"/>
<polyline points="438.70,457.57 471.90,514.14 505.20,518.10 538.50,517.22" fill="none" stroke="#e890a8" stroke-width="0.7" stroke-linejoin="miter" shape-rendering="geometricPrecision"/>
<polyline points="438.70,457.99 471.90,517.03 505.20,518.37 538.50,516.17" fill="none" stroke="#d4004a" stroke-width="0.7" stroke-linejoin="miter" shape-rendering="geometricPrecision"/>
<polyline points="438.70,457.71 471.90,516.09 505.20,517.93 538.50,514.35" fill="none" stroke="#d4004a" stroke-width="0.7" stroke-linejoin="miter" shape-rendering="geometricPrecision"/>
<polyline points="438.70,457.14 471.90,516.27 505.20,518.96 538.50,517.81" fill="none" stroke="#e890a8" stroke-width="0.7" stroke-linejoin="miter" shape-rendering="geometricPrecision"/>
<polyline points="438.70,457.31 471.90,518.03 505.20,516.25 538.50,515.50" fill="none" stroke="#d4004a" stroke-width="0.7" stroke-linejoin="miter" shape-rendering="geometricPrecision"/>
<polyline points="438.70,458.22 471.90,514.82 505.20,519.20 538.50,517.36" fill="none" stroke="#d4004a" stroke-width="0.7" stroke-linejoin="miter" shape-rendering="geometricPrecision"/>
<polyline points="438.70,457.98 471.90,518.11 505.20,515.73 538.50,516.93" fill="none" stroke="#e890a8" stroke-width="0.7" stroke-linejoin="miter" shape-rendering="geometricPrecision"/>
<polyline points="438.70,458.49 471.90,518.01 505.20,516.59 538.50,516.03" fill="none" stroke="#d4004a" stroke-width="0.7" stroke-linejoin="miter" shape-rendering="geometricPrecision"/>
<polyline points="438.70,457.70 471.90,515.40 505.20,515.82 538.50,513.83" fill="none" stroke="#d4004a" stroke-width="0.7" stroke-linejoin="miter" shape-rendering="geometricPrecision"/>
<polyline points="438.70,457.62 471.90,517.36 505.20,517.25 538.50,517.18" fill="none" stroke="#e890a8" stroke-width="0.7" stroke-linejoin="miter" shape-rendering="geometricPrecision"/>
<polyline points="438.70,458.70 471.90,516.19 505.20,516.22 538.50,517.18" fill="none" stroke="#d4004a" stroke-width="0.7" stroke-linejoin="miter" shape-rendering="geometricPrecision"/>
<polyline points="438.70,458.28 471.90,516.73 505.20,516.29 538.50,515.71" fill="none" stroke="#d4004a" stroke-width="0.7" stroke-linejoin="miter" shape-rendering="geometricPrecision"/>
<rect x="437.5" y="454.2" width="102.5" height="85.50000000000006" fill="none" stroke="#000" stroke-width="1" shape-rendering="geometricPrecision"/>
<line x1="435.1" y1="455.50" x2="437.5" y2="455.50" stroke="#000" stroke-width="1" shape-rendering="geometricPrecision"/>
<text transform="translate(433.1 459.1) scale(1 1.1)" font-family="Liberation Sans, sans-serif" font-size="9.3" text-anchor="end" fill="#000" stroke="#000" stroke-width="0.12">1.5</text>
<line x1="435.9" y1="468.90" x2="437.5" y2="468.90" stroke="#000" stroke-width="1" shape-rendering="geometricPrecision"/>
<line x1="435.1" y1="482.30" x2="437.5" y2="482.30" stroke="#000" stroke-width="1" shape-rendering="geometricPrecision"/>
<text transform="translate(433.1 485.90000000000003) scale(1 1.1)" font-family="Liberation Sans, sans-serif" font-size="9.3" text-anchor="end" fill="#000" stroke="#000" stroke-width="0.12">0.5</text>
<line x1="435.9" y1="495.70" x2="437.5" y2="495.70" stroke="#000" stroke-width="1" shape-rendering="geometricPrecision"/>
<line x1="435.1" y1="509.10" x2="437.5" y2="509.10" stroke="#000" stroke-width="1" shape-rendering="geometricPrecision"/>
<text transform="translate(433.1 512.6999999999999) scale(1 1.1)" font-family="Liberation Sans, sans-serif" font-size="9.3" text-anchor="end" fill="#000" stroke="#000" stroke-width="0.12">−0.5</text>
<line x1="435.9" y1="522.50" x2="437.5" y2="522.50" stroke="#000" stroke-width="1" shape-rendering="geometricPrecision"/>
<line x1="435.1" y1="535.90" x2="437.5" y2="535.90" stroke="#000" stroke-width="1" shape-rendering="geometricPrecision"/>
<text transform="translate(433.1 539.5) scale(1 1.1)" font-family="Liberation Sans, sans-serif" font-size="9.3" text-anchor="end" fill="#000" stroke="#000" stroke-width="0.12">−1.5</text>
<line x1="438.70" y1="539.7" x2="438.70" y2="541.5" stroke="#000" stroke-width="1" shape-rendering="geometricPrecision"/>
<text transform="translate(438.7 551.3000000000001) scale(1 1.1)" font-family="Liberation Sans, sans-serif" font-size="9.3" text-anchor="middle" fill="#000" stroke="#000" stroke-width="0.12">T20</text>
<line x1="471.90" y1="539.7" x2="471.90" y2="541.5" stroke="#000" stroke-width="1" shape-rendering="geometricPrecision"/>
<text transform="translate(471.9 551.3000000000001) scale(1 1.1)" font-family="Liberation Sans, sans-serif" font-size="9.3" text-anchor="middle" fill="#000" stroke="#000" stroke-width="0.12">T24</text>
<line x1="505.20" y1="539.7" x2="505.20" y2="541.5" stroke="#000" stroke-width="1" shape-rendering="geometricPrecision"/>
<text transform="translate(505.2 551.3000000000001) scale(1 1.1)" font-family="Liberation Sans, sans-serif" font-size="9.3" text-anchor="middle" fill="#000" stroke="#000" stroke-width="0.12">T28</text>
<line x1="538.50" y1="539.7" x2="538.50" y2="541.5" stroke="#000" stroke-width="1" shape-rendering="geometricPrecision"/>
<text transform="translate(538.5 551.3000000000001) scale(1 1.1)" font-family="Liberation Sans, sans-serif" font-size="9.3" text-anchor="middle" fill="#000" stroke="#000" stroke-width="0.12">T32</text>
<text transform="translate(411.2 495.3) rotate(-90) scale(1 1.1)" font-family="Liberation Sans, sans-serif" font-size="9.5" text-anchor="middle" fill="#000" stroke="#000" stroke-width="0.12">Expression change</text>
<text transform="translate(486.2 445.4) scale(1 1.1)" font-family="Liberation Sans, sans-serif" font-size="9.3" text-anchor="middle" fill="#000" stroke="#000" stroke-width="0.12">Cluster 6 (42 miRNAs)</text>
<text transform="translate(400.4 442.3) scale(1 1.0)" font-family="Liberation Sans, sans-serif" font-size="11.8" text-anchor="start" fill="#000" stroke="#000" stroke-width="0.55">H</text>
</svg>
</body></html>
